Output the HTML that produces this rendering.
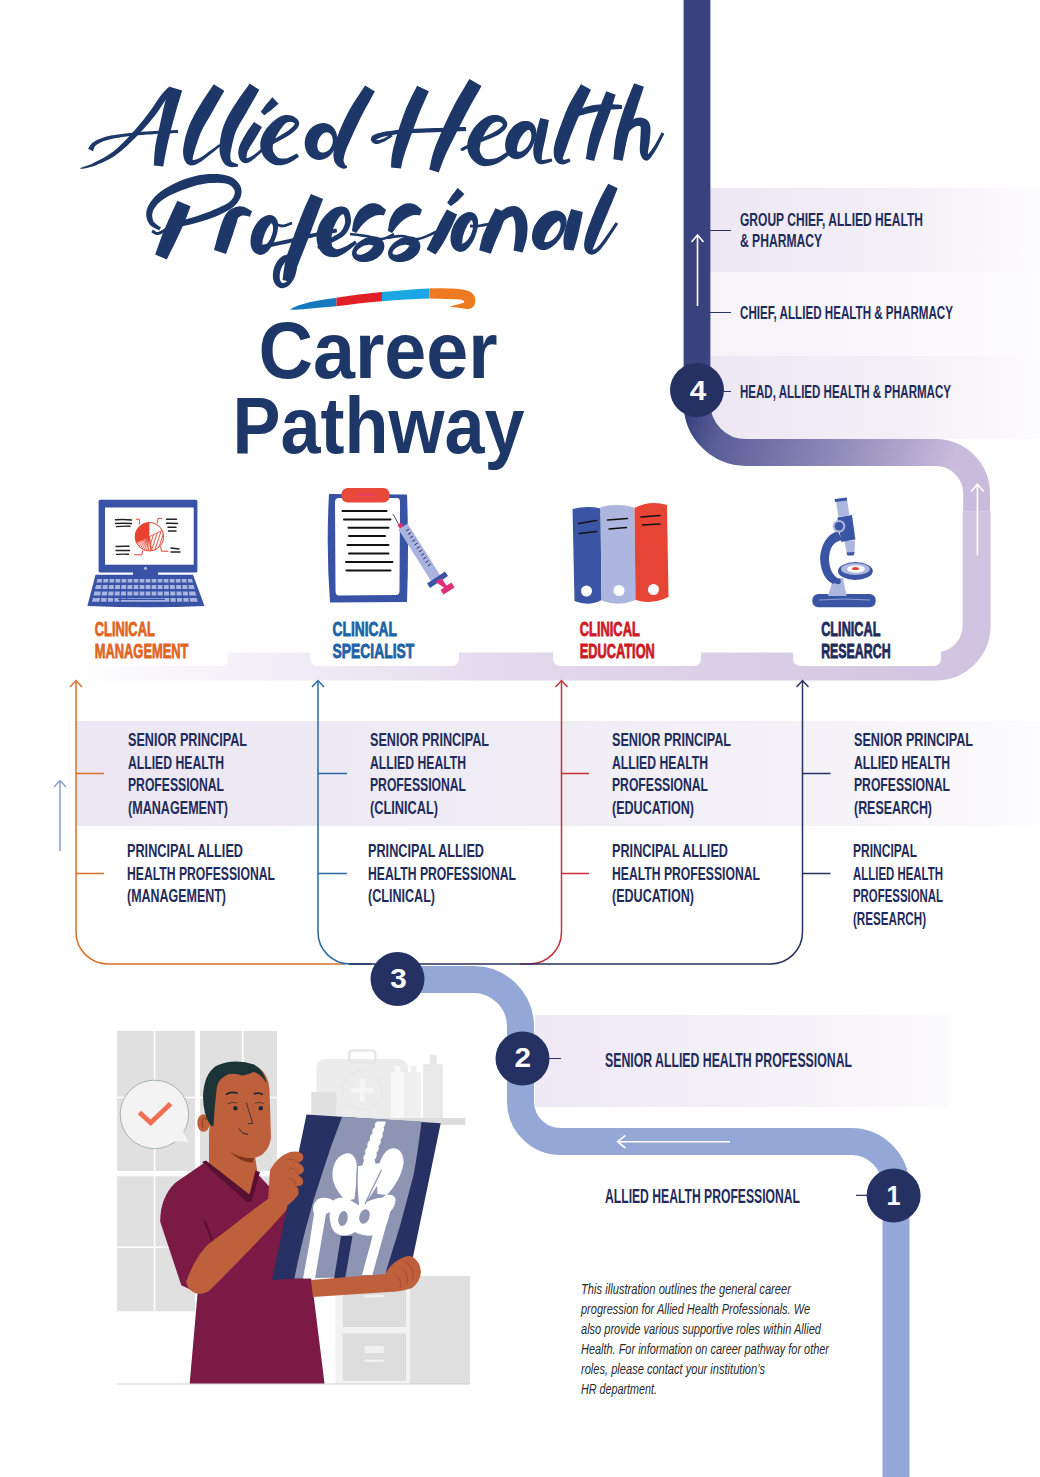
<!DOCTYPE html>
<html><head><meta charset="utf-8">
<style>
html,body{margin:0;padding:0;background:#fff;}
body{width:1040px;height:1477px;overflow:hidden;position:relative;}
svg{position:absolute;left:0;top:0;}
.t{font-family:"Liberation Sans",sans-serif;font-weight:bold;fill:#1f2b5b;font-size:19px;}
.big{font-family:"Liberation Sans",sans-serif;font-weight:bold;fill:#1d3768;}
.note{font-family:"Liberation Sans",sans-serif;font-style:italic;fill:#2a2a2a;font-size:15px;}
</style></head>
<body>
<svg width="1040" height="1477" viewBox="0 0 1040 1477">
<defs>
  <linearGradient id="bandTop" x1="710" y1="0" x2="1040" y2="0" gradientUnits="userSpaceOnUse">
    <stop offset="0" stop-color="#ede7f3"/><stop offset="0.6" stop-color="#f4f0f7"/><stop offset="1" stop-color="#fdfcfe"/>
  </linearGradient>
  <linearGradient id="bandTop2" x1="710" y1="0" x2="1040" y2="0" gradientUnits="userSpaceOnUse">
    <stop offset="0" stop-color="#f6f3f9"/><stop offset="1" stop-color="#fdfcfe"/>
  </linearGradient>
  <linearGradient id="pathA" x1="697" y1="385" x2="955" y2="455" gradientUnits="userSpaceOnUse">
    <stop offset="0" stop-color="#3a427e"/><stop offset="0.12" stop-color="#5a5e97"/><stop offset="0.55" stop-color="#8e88b8"/><stop offset="1" stop-color="#c8bbdb"/>
  </linearGradient>
  <linearGradient id="pathB" x1="975" y1="0" x2="70" y2="0" gradientUnits="userSpaceOnUse">
    <stop offset="0" stop-color="#d0c3e0"/><stop offset="0.5" stop-color="#e2d9ec"/><stop offset="1" stop-color="#ffffff"/>
  </linearGradient>
  <linearGradient id="band3" x1="76" y1="0" x2="1040" y2="0" gradientUnits="userSpaceOnUse">
    <stop offset="0" stop-color="#ece7f3"/><stop offset="0.5" stop-color="#f0edf5"/><stop offset="0.8" stop-color="#f5f3f8"/><stop offset="1" stop-color="#fdfcfe"/>
  </linearGradient>
  <linearGradient id="band2" x1="535" y1="0" x2="951" y2="0" gradientUnits="userSpaceOnUse">
    <stop offset="0" stop-color="#eee9f4"/><stop offset="0.7" stop-color="#f6f3f9"/><stop offset="1" stop-color="#fcfbfd"/>
  </linearGradient>
</defs>

<!-- top-right bands -->
<rect x="710" y="188" width="330" height="84" fill="url(#bandTop)"/>
<rect x="710" y="272" width="330" height="84" fill="url(#bandTop2)"/>
<rect x="710" y="356" width="330" height="83" fill="url(#bandTop)"/>

<!-- upper path -->
<path d="M697,0 V403.5 A49,49 0 0 0 746,452.5 H935.5 A41,41 0 0 1 976.6,493.5 V511.5" fill="none" stroke="url(#pathA)" stroke-width="26.8"/>
<path d="M976.6,511.3 V625.5 A41,41 0 0 1 935.6,666.5 H60" fill="none" stroke="url(#pathB)" stroke-width="28"/>
<!-- right up arrow -->
<path d="M977.4,555.5 V485 M971,491.5 L977.4,484.2 L983.8,491.5" fill="none" stroke="#fff" stroke-width="1.6"/>
<!-- bar up arrow -->
<path d="M697.5,306 V236 M691.5,242 L697.5,235 L703.5,242" fill="none" stroke="#fff" stroke-width="1.6"/>

<!-- ticks top right -->
<path d="M710,230.5 H731 M710,312.5 H731 M723,391.5 H731" stroke="#2a3466" stroke-width="1.2"/>
<circle cx="697" cy="390" r="27" fill="#253063"/>
<text x="698" y="399.6" text-anchor="middle" style="font-family:'Liberation Sans',sans-serif;font-weight:bold;font-size:28.5px;fill:#fff" textLength="16.5" lengthAdjust="spacingAndGlyphs">4</text>

<text class="t" x="740" y="225.8" textLength="183" lengthAdjust="spacingAndGlyphs">GROUP CHIEF, ALLIED HEALTH</text>
<text class="t" x="740" y="246.8" textLength="82" lengthAdjust="spacingAndGlyphs">&amp; PHARMACY</text>
<text class="t" x="740" y="318.8" textLength="213" lengthAdjust="spacingAndGlyphs">CHIEF, ALLIED HEALTH &amp; PHARMACY</text>
<text class="t" x="740" y="398" textLength="211" lengthAdjust="spacingAndGlyphs">HEAD, ALLIED HEALTH &amp; PHARMACY</text>

<!-- label white boxes -->
<rect x="60" y="600" width="168" height="66" rx="7" fill="#fff"/>
<rect x="310" y="600" width="149" height="66" rx="7" fill="#fff"/>
<rect x="553" y="600" width="148" height="66" rx="7" fill="#fff"/>
<rect x="793" y="600" width="148" height="66" rx="7" fill="#fff"/>

<g class="lab" style="font-family:'Liberation Sans',sans-serif;font-weight:bold;font-size:19.5px;stroke-width:0.8">
<text x="94.8" y="636" textLength="60" lengthAdjust="spacingAndGlyphs" style="fill:#e0661f;stroke:#e0661f">CLINICAL</text>
<text x="94.8" y="658" textLength="93.6" lengthAdjust="spacingAndGlyphs" style="fill:#e0661f;stroke:#e0661f">MANAGEMENT</text>
<text x="332.6" y="636" textLength="64.2" lengthAdjust="spacingAndGlyphs" style="fill:#1d63a8;stroke:#1d63a8">CLINICAL</text>
<text x="332.6" y="658" textLength="81.6" lengthAdjust="spacingAndGlyphs" style="fill:#1d63a8;stroke:#1d63a8">SPECIALIST</text>
<text x="579.8" y="636" textLength="60" lengthAdjust="spacingAndGlyphs" style="fill:#cc1a24;stroke:#cc1a24">CLINICAL</text>
<text x="579.8" y="658" textLength="75" lengthAdjust="spacingAndGlyphs" style="fill:#cc1a24;stroke:#cc1a24">EDUCATION</text>
<text x="821.2" y="636" textLength="59.2" lengthAdjust="spacingAndGlyphs" style="fill:#1f2b5b;stroke:#1f2b5b">CLINICAL</text>
<text x="821.2" y="658" textLength="69.4" lengthAdjust="spacingAndGlyphs" style="fill:#1f2b5b;stroke:#1f2b5b">RESEARCH</text>
</g>


<!-- ICONS -->
<g id="laptop">
  <rect x="98.6" y="499.7" width="98.8" height="72.7" rx="1.5" fill="#3852a6"/>
  <rect x="105" y="507.5" width="88.7" height="57.2" fill="#fff"/>
  <circle cx="145.5" cy="568.3" r="1.6" fill="#a9b3df"/>
  <rect x="133" y="571" width="25" height="5" fill="#3852a6"/>
  <path d="M95.5,574.8 L193,574.8 L204.5,606 Q150,608.5 87.4,606 Z" fill="#3852a6"/>
  <g fill="#a9b3df">
    <path d="M97.5,579 H192 L193,582.5 H96.5 Z"/>
    <path d="M96,585 H193.5 L194.6,589 H95 Z"/>
    <path d="M94.5,591.5 H195 L196.3,595.5 H93.5 Z"/>
    <path d="M93,598 H196.7 L197.8,601.8 H92 Z"/>
  </g>
  <g stroke="#3852a6" stroke-width="1.3">
    <path d="M103,578 L100,603 M109,578 L107,603 M115,578 L113.5,603 M121,578 L120,603 M127,578 L126.5,600 M133,578 L133,598 M139,578 L139,598 M145,578 L145,598 M151,578 L151,598 M157,578 L157,598 M163,578 L163.5,598 M169,578 L170,603 M175,578 L176.5,603 M181,578 L183,603 M187,578 L189.5,603"/>
  </g>
  <path d="M118,599.3 H165" stroke="#3852a6" stroke-width="1.2"/>
  <clipPath id="pieRad"><path d="M149.40,536.70 L136.47,542.81 A14.3,14.3 0 0 0 151.88,550.78 Z"/></clipPath>
  <clipPath id="pieDiag"><path d="M149.40,536.70 L151.88,550.78 A14.3,14.3 0 0 0 162.25,530.43 Z"/></clipPath>
  <circle cx="149.4" cy="536.7" r="14.3" fill="#fff"/>
  <path d="M149.40,536.70 L149.40,522.40 A14.3,14.3 0 0 0 136.47,542.81 Z" fill="#e8412f"/>
  <g clip-path="url(#pieRad)" stroke="#e8412f" stroke-width="0.9"><path d="M149.40,536.70 L150.89,550.92 M149.40,536.70 L148.65,550.98 M149.40,536.70 L146.43,550.69 M149.40,536.70 L144.28,550.05 M149.40,536.70 L142.25,549.08 M149.40,536.70 L140.40,547.81 M149.40,536.70 L138.77,546.27 M149.40,536.70 L137.41,544.49"/></g>
  <g clip-path="url(#pieDiag)" stroke="#e8412f" stroke-width="0.9"><path d="M120.8,556.0 L132.8,520.0 M124.0,556.0 L136.0,520.0 M127.2,556.0 L139.2,520.0 M130.4,556.0 L142.4,520.0 M133.6,556.0 L145.6,520.0 M136.8,556.0 L148.8,520.0 M140.0,556.0 L152.0,520.0 M143.2,556.0 L155.2,520.0 M146.4,556.0 L158.4,520.0 M149.6,556.0 L161.6,520.0 M152.8,556.0 L164.8,520.0 M156.0,556.0 L168.0,520.0 M159.2,556.0 L171.2,520.0 M162.4,556.0 L174.4,520.0 M165.6,556.0 L177.6,520.0 M168.8,556.0 L180.8,520.0"/></g>
  <path d="M149.4,536.7 L151.88,550.78 M149.4,536.7 L162.25,530.43 M149.4,536.7 L136.47,542.81" stroke="#e8412f" stroke-width="0.8"/>
  <circle cx="149.4" cy="536.7" r="14.3" fill="none" stroke="#e8412f" stroke-width="1"/>
  <path d="M139.4,524.5 V519.2 H136 M157.2,523.5 L158.2,518.3 H162 M142.8,550.5 L141.8,554.8 H134 M160.6,546.6 L161.5,551.2 H168.3" fill="none" stroke="#e8412f" stroke-width="1"/>
  <g stroke="#222" stroke-width="1.4" stroke-linecap="round">
    <path d="M115.5,519.8 Q124,519 131.5,520 M115.5,523.5 Q124,523 131.5,523.5 M116.5,526.6 Q124,526 130,526.2 M166.5,519.3 H176.5 M166.5,523.3 Q172,523 177.5,523.5 M168,527.3 H176 M168.5,531 H176 M116,546.5 Q123,546 129,546.3 M116,550.5 H129.5 M116.5,554.4 Q122,554 128.5,554.2 M171,548 L179,549 M171,552 H180"/>
  </g>
</g>
<g id="clipboard">
  <path d="M329,494 L407,494.5 Q409,548 407,602 L330,602.5 Q326,548 329,494 Z" fill="#3852a6"/>
  <path d="M339,498 L397,498 Q400,498 400,502 L399.5,591 Q399.5,595 396,595 L339,595.5 Q335.5,595.5 335.5,591 L335,502 Q335,498 339,498 Z" fill="#fff"/>
  <rect x="341.5" y="488" width="48" height="14.5" rx="6" fill="#e8493a"/>
  <path d="M357,494.8 H374" stroke="#e8397a" stroke-width="1.5"/>
  <g stroke="#111" stroke-width="2" stroke-linecap="round">
    <path d="M342.5,511 H386.5 M344,519.5 H390.5 M348.5,527.8 H388.5 M349,536 H385 M347.5,545 H388.5 M349,553.5 H388.5 M346,562 H392.5 M346.5,570.6 H390.5"/>
  </g>
  <path d="M393,514 L398.5,524" stroke="#222" stroke-width="0.8"/>
  <path d="M397.5,525 L401,522.5 L404,527 L400.5,529.5 Z" fill="#e0307a"/>
  <path d="M398.5,529.5 L407.5,523.5 L440,575 L431,581 Z" fill="#a9b3df"/>
  <g stroke="#2a2f55" stroke-width="1">
    <path d="M406,531 L409,529 M408,534.5 L411,532.5 M410,538 L413,536 M412.3,541.5 L415.3,539.5 M414.5,545 L417.5,543 M416.7,548.5 L419.7,546.5 M419,552 L422,550 M421.2,555.5 L424.2,553.5 M423.4,559 L426.4,557 M425.6,562.5 L428.6,560.5 M427.8,566 L430.8,564"/>
  </g>
  <path d="M427,583.5 L445,571.5 L448,576 L430,588 Z" fill="#3852a6"/>
  <path d="M435.5,582 L441.5,578 L446.5,585.5 L451.5,582.5 L454.5,587.5 L443.5,594.5 L440.5,590 L444,587.5 Z" fill="#e0307a"/>
</g>
<g id="binders">
  <path d="M572.5,509 Q587,505.5 600.5,508.5 L601.5,600 Q589,607 574.5,601 Z" fill="#3a55a4"/>
  <path d="M600.5,507 Q617,503 634.5,507.5 L635.5,600 Q618,607 601.5,600.5 Z" fill="#adb6de"/>
  <path d="M634.5,508 Q650,500 667,505 L668.5,597 Q652,605 635.5,600 Z" fill="#e64535"/>
  <circle cx="586.5" cy="591" r="5.5" fill="#fff"/>
  <circle cx="619" cy="590.5" r="5.5" fill="#fff"/>
  <circle cx="653.5" cy="589.5" r="5.5" fill="#fff"/>
  <g stroke="#111" stroke-width="1.5" stroke-linecap="round">
    <path d="M578.5,523.5 L596.5,520.5 M579.5,533.5 L596.5,531.5 M607.5,520 L627.5,518.5 M609,529 L626.5,527.5 M641,517 L660,515.5 M642.5,525 L660,524"/>
  </g>
</g>
<g id="microscope">
  <rect x="812.3" y="594" width="63.4" height="13.3" rx="6" fill="#3a55a4"/>
  <path d="M819,600 Q845,598 870,600" stroke="#a9b3df" stroke-width="0.8" fill="none"/>
  <path d="M828,596 L833.5,578 L843,578 L846.6,596 Z" fill="#adb6de"/>
  <path d="M838,531 Q822,536 820,558 Q821,578 833,584 L840,580 Q829,574 829,558 Q830,542 842,540 Z" fill="#3a55a4"/>
  <circle cx="837.8" cy="581.3" r="3" fill="#3a55a4"/>
  <ellipse cx="855.4" cy="571" rx="17.4" ry="9" fill="#3a55a4"/>
  <ellipse cx="855.4" cy="569" rx="14.5" ry="6" fill="#adb6de"/>
  <ellipse cx="856" cy="569" rx="9" ry="3.8" fill="#fff"/>
  <ellipse cx="855.5" cy="568.5" rx="3.5" ry="1.6" fill="#e64535"/>
  <path d="M844.5,541 L855,540.5 L854.5,553 L851,555 L847,554.5 Z" fill="#adb6de"/>
  <path d="M846.5,552.5 L854.5,552 L853.5,555.5 L847.5,555.5 Z" fill="#3a55a4"/>
  <path d="M837.4,517.5 L852,515 L855.4,539.5 L841.3,542 Z" fill="#3a55a4"/>
  <circle cx="839" cy="526.3" r="6.3" fill="#adb6de"/>
  <circle cx="839" cy="526.3" r="4.3" fill="#3a55a4"/>
  <path d="M836,501 L847,499.5 L849.5,515.5 L838.5,517 Z" fill="#adb6de"/>
  <path d="M834.7,499 L846.8,497.5 L847.2,500.5 L835,502 Z" fill="#3a55a4"/>
</g>

<!-- lower band -->
<rect x="76" y="721" width="964" height="105" fill="url(#band3)"/>

<!-- bracket lines -->
<g fill="none" stroke-width="1.5">
  <path d="M76,681 V932 A32,32 0 0 0 108,964 H345" stroke="#d9712a"/>
  <path d="M70,687 L76,680.5 L82,687 M76,773.5 H104 M76,873.5 H104" stroke="#d9712a"/>
  <path d="M318,681 V932 A32,32 0 0 0 350,964 H372" stroke="#2a6aa3"/>
  <path d="M312,687 L318,680.5 L324,687 M318,773.5 H347 M318,873.5 H347" stroke="#2a6aa3"/>
  <path d="M561.5,681 V932 A32,32 0 0 1 529.5,964 H520" stroke="#c8303a"/>
  <path d="M555.5,687 L561.5,680.5 L567.5,687 M561.5,773.5 H589 M561.5,873.5 H589" stroke="#c8303a"/>
  <path d="M802.5,681 V932 A32,32 0 0 1 770.5,964 H349" stroke="#27325f"/>
  <path d="M796.5,687 L802.5,680.5 L808.5,687 M802.5,773.5 H830.5 M802.5,873.5 H830.5" stroke="#27325f"/>
  <path d="M60,851 V781 M54,787 L60,780.5 L66,787" stroke="#8f9cc9"/>
</g>

<!-- bracket texts -->
<g class="t">
<text x="128" y="746" textLength="119" lengthAdjust="spacingAndGlyphs">SENIOR PRINCIPAL</text>
<text x="128" y="768.5" textLength="96" lengthAdjust="spacingAndGlyphs">ALLIED HEALTH</text>
<text x="128" y="791" textLength="96" lengthAdjust="spacingAndGlyphs">PROFESSIONAL</text>
<text x="128" y="813.5" textLength="100" lengthAdjust="spacingAndGlyphs">(MANAGEMENT)</text>
<text x="127" y="857" textLength="116" lengthAdjust="spacingAndGlyphs">PRINCIPAL ALLIED</text>
<text x="127" y="879.5" textLength="148" lengthAdjust="spacingAndGlyphs">HEALTH PROFESSIONAL</text>
<text x="127" y="902" textLength="99" lengthAdjust="spacingAndGlyphs">(MANAGEMENT)</text>

<text x="370" y="746" textLength="119" lengthAdjust="spacingAndGlyphs">SENIOR PRINCIPAL</text>
<text x="370" y="768.5" textLength="96" lengthAdjust="spacingAndGlyphs">ALLIED HEALTH</text>
<text x="370" y="791" textLength="96" lengthAdjust="spacingAndGlyphs">PROFESSIONAL</text>
<text x="370" y="813.5" textLength="68" lengthAdjust="spacingAndGlyphs">(CLINICAL)</text>
<text x="368" y="857" textLength="116" lengthAdjust="spacingAndGlyphs">PRINCIPAL ALLIED</text>
<text x="368" y="879.5" textLength="148" lengthAdjust="spacingAndGlyphs">HEALTH PROFESSIONAL</text>
<text x="368" y="902" textLength="67" lengthAdjust="spacingAndGlyphs">(CLINICAL)</text>

<text x="612" y="746" textLength="119" lengthAdjust="spacingAndGlyphs">SENIOR PRINCIPAL</text>
<text x="612" y="768.5" textLength="96" lengthAdjust="spacingAndGlyphs">ALLIED HEALTH</text>
<text x="612" y="791" textLength="96" lengthAdjust="spacingAndGlyphs">PROFESSIONAL</text>
<text x="612" y="813.5" textLength="82" lengthAdjust="spacingAndGlyphs">(EDUCATION)</text>
<text x="612" y="857" textLength="116" lengthAdjust="spacingAndGlyphs">PRINCIPAL ALLIED</text>
<text x="612" y="879.5" textLength="148" lengthAdjust="spacingAndGlyphs">HEALTH PROFESSIONAL</text>
<text x="612" y="902" textLength="82" lengthAdjust="spacingAndGlyphs">(EDUCATION)</text>

<text x="854" y="746" textLength="119" lengthAdjust="spacingAndGlyphs">SENIOR PRINCIPAL</text>
<text x="854" y="768.5" textLength="96" lengthAdjust="spacingAndGlyphs">ALLIED HEALTH</text>
<text x="854" y="791" textLength="96" lengthAdjust="spacingAndGlyphs">PROFESSIONAL</text>
<text x="854" y="813.5" textLength="78" lengthAdjust="spacingAndGlyphs">(RESEARCH)</text>
<text x="853" y="857" textLength="64" lengthAdjust="spacingAndGlyphs">PRINCIPAL</text>
<text x="853" y="879.5" textLength="90" lengthAdjust="spacingAndGlyphs">ALLIED HEALTH</text>
<text x="853" y="902" textLength="90" lengthAdjust="spacingAndGlyphs">PROFESSIONAL</text>
<text x="853" y="924.5" textLength="73" lengthAdjust="spacingAndGlyphs">(RESEARCH)</text>
</g>

<!-- lower path -->
<rect x="535" y="1015" width="416" height="92" fill="url(#band2)"/>
<path d="M398,979.5 H473 A47,47 0 0 1 520.5,1026.5 V1101.5 A40,40 0 0 0 560.5,1141.5 H851 A45,45 0 0 1 896,1186.5 V1477" fill="none" stroke="#94a7d7" stroke-width="27"/>
<path d="M730,1141.7 H618 M625.4,1135.3 L617.5,1141.7 L625.4,1148" fill="none" stroke="#fff" stroke-width="1.6"/>
<path d="M549,1058.5 H561 M856,1195.4 H867" stroke="#2a3466" stroke-width="1.2"/>
<circle cx="397.5" cy="979" r="27" fill="#253063"/>
<circle cx="522.5" cy="1058.5" r="27" fill="#253063"/>
<circle cx="893.6" cy="1195.5" r="27" fill="#253063"/>
<text x="398.5" y="988.3" text-anchor="middle" style="font-family:'Liberation Sans',sans-serif;font-weight:bold;font-size:28.5px;fill:#fff" textLength="16.5" lengthAdjust="spacingAndGlyphs">3</text>
<text x="522.7" y="1066.6" text-anchor="middle" style="font-family:'Liberation Sans',sans-serif;font-weight:bold;font-size:28.5px;fill:#fff" textLength="16.5" lengthAdjust="spacingAndGlyphs">2</text>
<text x="893.6" y="1205" text-anchor="middle" style="font-family:'Liberation Sans',sans-serif;font-weight:bold;font-size:28px;fill:#fff" textLength="14" lengthAdjust="spacingAndGlyphs">1</text>
<text class="t" x="605" y="1067" style="font-size:20.5px" textLength="247" lengthAdjust="spacingAndGlyphs">SENIOR ALLIED HEALTH PROFESSIONAL</text>
<text class="t" x="605" y="1202.8" style="font-size:20.5px" textLength="195" lengthAdjust="spacingAndGlyphs">ALLIED HEALTH PROFESSIONAL</text>


<!-- ILLUSTRATION -->
<g id="illus">
  <!-- window grid -->
  <g fill="#e0e0e0">
    <rect x="117" y="1031" width="78" height="140"/>
    <rect x="200" y="1031" width="77" height="140"/>
    <rect x="117" y="1176.3" width="78" height="135"/>
    <rect x="200" y="1176.3" width="77" height="135"/>
  </g>
  <g stroke="#fff" stroke-width="1.6">
    <path d="M154.6,1031 V1311 M242.7,1031 V1311 M117,1097.5 H277 M117,1247.3 H277"/>
  </g>
  <!-- shelf & kit -->
  <rect x="316.4" y="1059" width="91.6" height="62" rx="9" fill="#ececec"/>
  <rect x="349.3" y="1050.5" width="26" height="12" rx="3" fill="none" stroke="#e6e6e6" stroke-width="2.4"/>
  <circle cx="362.3" cy="1090.2" r="19.5" fill="none" stroke="#e4e4e4" stroke-width="0.8"/>
  <path d="M362.3,1079 V1101.5 M351,1090.2 H373.5" stroke="#f5f5f5" stroke-width="5"/>
  <rect x="311.2" y="1092" width="25" height="26" fill="#e0e0e0"/>
  <rect x="390.9" y="1072" width="13.8" height="46" rx="1" fill="#f7f7f7"/>
  <rect x="394.5" y="1066" width="6" height="8" fill="#f7f7f7"/>
  <rect x="406.4" y="1072" width="14.6" height="46" rx="1" fill="#f0f0f0"/>
  <rect x="410.5" y="1066" width="6" height="8" fill="#f0f0f0"/>
  <rect x="423.2" y="1064.2" width="19.6" height="54" fill="#e8e8e8"/>
  <rect x="429.8" y="1054.7" width="6.9" height="10" fill="#e8e8e8"/>
  <rect x="311" y="1118" width="154.3" height="7" fill="#dcdcdc"/>
  <!-- cabinet -->
  <rect x="410" y="1276" width="60" height="108" fill="#e0e0e0"/>
  <rect x="335.4" y="1276" width="74.6" height="108" fill="#f2f2f2"/>
  <rect x="342.8" y="1276" width="63.2" height="51" fill="#dddddd"/>
  <rect x="342.8" y="1333.5" width="63.2" height="47.3" fill="#dddddd"/>
  <rect x="364.6" y="1346" width="19.2" height="7" fill="#f0f0f0"/>
  <rect x="364.6" y="1359.7" width="19.2" height="2.4" fill="#f0f0f0"/>
  <rect x="364.6" y="1295" width="19.2" height="2.4" fill="#f0f0f0"/>
  <!-- floor -->
  <path d="M117,1384 H470" stroke="#cfcfcf" stroke-width="1.2"/>
  <!-- speech bubble -->
  <circle cx="154.4" cy="1114.4" r="34.2" fill="#f3f3f3" stroke="#8d9a9a" stroke-width="0.7"/>
  <path d="M182.5,1130 L189.2,1143.6 Q182,1139.5 174,1141.8 L176,1136 Z" fill="#f3f3f3"/>
  <path d="M183.6,1131.4 L189.2,1143.6" stroke="#dcdcdc" stroke-width="0.5"/>
  <path d="M139.4,1112.5 L150.7,1122.8 L170.6,1103.8" fill="none" stroke="#f26d52" stroke-width="4.8"/>
  <!-- man: body -->
  <path d="M204,1163 L254.7,1171 L286.4,1204.7 L311.8,1281 L324.5,1383.5 L189.7,1383.5 L197.6,1293 L181.3,1285.2 L160.2,1221.8 Q160,1198 175,1183 Z" fill="#7b1a45"/>
  <!-- neck -->
  <path d="M209,1130 L254,1150 L257.3,1171.2 L249.2,1198.8 L204.2,1164.2 L209,1164 Z" fill="#bf603c"/>
  <path d="M202,1162 L206,1160.5 L249.5,1194.5 L255.5,1170.5 L260,1172 L251.5,1201.5 L247,1202 Z" fill="#571031"/>
  <!-- head -->
  <path d="M209,1092 Q207,1064 236,1062 Q268,1062 269.5,1090 L271,1138 Q268,1156 252,1158.5 L231,1152 Q215,1150 209.5,1140 Z" fill="#bf603c"/>
  <path d="M229.6,1151.5 Q241,1159 253.8,1158 L252.7,1162.7 Q240,1162 229.6,1151.5 Z" fill="#7e3418"/>
  <ellipse cx="203.5" cy="1123" rx="6.2" ry="8.8" fill="#bf603c"/>
  <path d="M203.5,1118 Q200.5,1122 203,1128 M203.5,1118 Q206,1117.5 207,1120" fill="none" stroke="#7e3418" stroke-width="0.8"/>
  <path d="M211,1126 Q203,1115 203,1096 Q204,1074 216,1066 Q234,1058 254,1064.5 Q264,1070 266.8,1083.5 Q261,1074 253.8,1072 Q248,1075 242.3,1075.4 Q235,1073 228.5,1074.2 Q219,1078 217,1086 Q214.5,1105 213.5,1126 Z" fill="#1c3437"/>
  <!-- face details -->
  <circle cx="235.4" cy="1108.3" r="2.2" fill="#1b2a2a"/>
  <circle cx="260.8" cy="1108.3" r="2.2" fill="#1b2a2a"/>
  <path d="M226,1094.5 Q231.5,1091 237.7,1093.5 M253.8,1094 Q258.5,1092 263,1094.5" fill="none" stroke="#1b2a2a" stroke-width="1.8"/>
  <path d="M227.5,1104 Q232,1101 236.5,1103 M255,1103.5 Q259,1101 263.5,1103.5" fill="none" stroke="#1b2a2a" stroke-width="0.7"/>
  <path d="M246.3,1102.5 L252.7,1123.5 L248,1123.8" fill="none" stroke="#1b2a2a" stroke-width="0.8"/>
  <path d="M239,1128.5 Q242,1134.5 248,1134.2" fill="none" stroke="#1b2a2a" stroke-width="1"/>
  <!-- upper arm (skin) from elbow to raised hand -->
  <path d="M186,1282 C193,1263 202,1249 210.8,1242.3 C230,1228 252,1210 272,1196 L290,1206 C265,1235 235,1265 210,1290 C203,1296 190,1296 186,1282 Z" fill="#bf603c"/>
  <path d="M204.6,1220.8 L212.3,1240.8" stroke="#5a0f30" stroke-width="2"/>
  <!-- x-ray film -->
  <path d="M306.5,1114.5 L440.7,1123.2 L410,1271.5 L272,1280 Z" fill="#283163"/>
  <path d="M342,1117 L421.6,1121.4 Q418,1150 413.8,1174 Q407,1200 400,1226 Q392,1252 384.4,1276.5 L294.4,1278.5 Q300,1250 306.5,1226 Q313,1200 322,1174 Q331,1145 342,1117 Z" fill="#8e95b3"/>
  <path d="M341,1236 L352.5,1236 L345,1279 L334,1279 Z" fill="#283163"/>
  <!-- bones -->
  <g fill="#ffffff">
    <path d="M377,1121.5 L385.5,1121.5 Q386,1125 383.5,1127 Q385,1130 382.5,1133 Q383.5,1137 380.5,1139.5 Q381.5,1143 378.5,1146 Q379.5,1150 376.5,1152.5 Q377.5,1157 374.5,1159.5 L376,1166 L362,1167 L364,1160 Q362,1157 365.5,1154 Q364,1150 367.5,1147 Q366.5,1143 370,1140 Q369,1136 372.5,1133.5 Q371.5,1129 375,1127 Q374,1123 377,1121.5 Z"/>
    <path d="M346,1153.5 C352,1152 357,1158 357,1168 C357,1178 355.5,1190 354.5,1199 L346,1201 C340,1195 333,1186 332.5,1176 C332,1164 338,1155 346,1153.5 Z"/>
    <path d="M393,1148.3 C400,1148 404,1155 403.5,1163 C402,1175 395,1186 387,1195 L377.5,1194 C376.5,1185 377,1172 380,1162 C383,1154 387,1149 393,1148.3 Z"/>
    <path d="M358,1166 L381.5,1163 L382.5,1175 C378,1186 368,1200 359.5,1210 C357,1199 356.5,1184 358,1166 Z"/>
    <path d="M331,1205 C333,1197 342,1196 350,1200 L360,1206 C368,1200 380,1196 388,1198 C392,1205 390,1222 382,1231 C372,1238 362,1236 355,1232 C348,1237 338,1237 333,1230 C329,1222 329,1213 331,1205 Z"/>
    <path d="M318,1199 Q327,1195.5 334,1201 Q336,1207 330,1212 L326,1214 L320.5,1246 L315,1278.5 L303,1278.5 L309,1246 L314,1214 Q311,1205 318,1199 Z"/>
    <path d="M386,1195 Q394,1193.5 395.5,1199 Q396,1206 390,1212 L381,1244 L372.4,1275 L362,1275 L370.5,1244 L378,1212 Q379,1198 386,1195 Z"/>
  </g>
  <g fill="#8e95b3">
    <ellipse cx="343" cy="1218.5" rx="4.6" ry="7.6" transform="rotate(10 343 1218.5)"/>
    <ellipse cx="364.5" cy="1216.5" rx="5" ry="7.4" transform="rotate(20 364.5 1216.5)"/>
  </g>
  <path d="M357.5,1166 Q356,1185 358.5,1205 M381.5,1170 Q374,1185 365,1204" fill="none" stroke="#8e95b3" stroke-width="1.3"/>
  <!-- raised hand -->
  <path d="M270,1170 Q278,1156 290,1152 Q300,1150 303,1155 Q305,1160 298,1163 Q304,1165 304,1170 Q303,1174 298,1175 Q304,1178 303,1183 Q301,1187 296,1186 Q300,1190 298,1195 Q290,1206 280,1209 L268,1200 Z" fill="#bf603c"/>
  <path d="M287,1159 Q294,1158 299,1163 M289,1168 Q296,1168 299,1175 M289,1178 Q295,1179 296,1186" fill="none" stroke="#9e4a2a" stroke-width="0.8"/>
  <!-- lower arm and hand -->
  <path d="M311,1280 L385,1274 Q392,1262 402,1258 Q410,1254 414,1258 Q420,1262 421,1272 Q420,1282 412,1288 Q400,1292 388,1292 L313,1297 Z" fill="#bf603c"/>
  <path d="M405,1262 Q414,1266 413,1279 M401,1268 Q409,1272 407,1285 M396,1275 Q402,1279 400,1288" fill="none" stroke="#9e4a2a" stroke-width="0.8"/>
</g>

<!-- footnote -->
<g class="note">
<text x="581" y="1294" textLength="210" lengthAdjust="spacingAndGlyphs">This illustration outlines the general career</text>
<text x="581" y="1314" textLength="229" lengthAdjust="spacingAndGlyphs">progression for Allied Health Professionals. We</text>
<text x="581" y="1334" textLength="240" lengthAdjust="spacingAndGlyphs">also provide various supportive roles within Allied</text>
<text x="581" y="1354" textLength="248" lengthAdjust="spacingAndGlyphs">Health. For information on career pathway for other</text>
<text x="581" y="1374" textLength="184" lengthAdjust="spacingAndGlyphs">roles, please contact your institution’s</text>
<text x="581" y="1394" textLength="76" lengthAdjust="spacingAndGlyphs">HR department.</text>
</g>

<!-- title -->
<g id="script" fill="#1d3768">
<path d="M80.7,169.1 L82.2,168.8 L84.3,168.4 L86.8,167.9 L89.6,167.3 L92.6,166.4 L95.6,165.4 L98.7,164.1 L102.0,162.7 L105.5,161.1 L109.1,159.3 L112.8,157.2 L116.3,154.8 L119.9,152.1 L123.4,149.1 L126.9,145.9 L130.4,142.5 L133.8,139.2 L137.0,135.9 L140.2,132.6 L143.3,129.2 L146.4,125.8 L149.3,122.4 L152.0,119.1 L154.6,116.0 L156.9,112.9 L159.0,110.0 L160.9,107.1 L162.6,104.5 L164.2,102.1 L165.6,99.9 L167.0,97.9 L168.3,96.0 L169.4,94.3 L170.5,92.8 L171.3,91.5 L172.0,90.6 L168.0,87.4 L167.3,88.3 L166.2,89.4 L164.9,90.7 L163.5,92.3 L162.0,94.1 L160.4,96.1 L158.7,98.4 L157.1,100.8 L155.3,103.5 L153.5,106.2 L151.6,109.1 L149.4,112.0 L147.1,115.1 L144.5,118.4 L141.7,121.9 L138.9,125.3 L136.0,128.8 L133.0,132.1 L129.9,135.5 L126.7,138.9 L123.4,142.3 L120.1,145.5 L116.9,148.5 L113.7,151.2 L110.4,153.6 L107.1,155.7 L103.8,157.7 L100.5,159.5 L97.3,161.1 L94.4,162.6 L91.6,163.9 L88.9,165.0 L86.2,166.0 L83.8,166.8 L81.8,167.4 L80.3,167.9 Z"/>
<path d="M168.8,86.6 L168.3,88.4 L167.7,90.8 L167.0,93.7 L166.3,96.9 L165.5,100.2 L164.7,103.4 L164.0,106.5 L163.2,109.8 L162.5,113.1 L161.7,116.6 L160.9,120.1 L160.2,123.6 L159.4,127.2 L158.5,130.9 L157.6,134.7 L156.7,138.5 L156.0,142.3 L155.3,146.0 L154.9,149.7 L154.5,153.5 L154.2,157.2 L154.1,160.6 L153.9,163.4 L153.8,165.4 L163.2,166.6 L163.6,164.5 L164.1,161.8 L164.6,158.5 L165.3,155.0 L166.0,151.4 L166.7,148.0 L167.4,144.7 L168.2,141.1 L169.1,137.4 L170.0,133.7 L170.9,130.0 L171.8,126.4 L172.7,122.9 L173.7,119.5 L174.6,116.2 L175.5,112.9 L176.4,109.7 L177.3,106.6 L178.2,103.6 L179.2,100.4 L180.1,97.3 L181.0,94.5 L181.7,92.1 L182.2,90.4 Z"/>
<path d="M92.9,151.3 L93.3,150.5 L93.6,149.4 L94.0,148.3 L94.5,147.1 L95.2,146.1 L96.2,145.1 L97.5,144.2 L99.2,143.2 L101.1,142.2 L103.3,141.3 L105.7,140.5 L108.4,139.7 L111.5,139.0 L114.8,138.3 L118.5,137.7 L122.3,137.1 L126.3,136.6 L130.2,136.1 L134.2,135.7 L138.3,135.3 L142.6,134.9 L146.8,134.6 L151.0,134.4 L155.1,134.1 L159.3,133.8 L163.7,133.6 L168.1,133.4 L172.2,133.3 L175.6,133.1 L178.1,133.0 L177.9,130.0 L175.5,130.1 L172.1,130.2 L168.0,130.3 L163.6,130.5 L159.1,130.7 L154.9,130.9 L150.8,131.2 L146.6,131.4 L142.3,131.8 L138.0,132.1 L133.9,132.5 L129.8,132.9 L125.9,133.4 L121.9,133.9 L118.0,134.4 L114.3,135.0 L110.8,135.6 L107.6,136.3 L104.7,137.1 L102.1,138.0 L99.7,138.9 L97.5,139.8 L95.6,140.8 L93.8,141.9 L92.2,143.1 L90.9,144.5 L89.8,145.9 L89.1,147.2 L88.5,148.1 L88.1,148.7 Z"/>
<path d="M213.7,84.2 L212.2,86.5 L210.0,89.7 L207.5,93.5 L204.8,97.5 L202.2,101.6 L200.0,105.2 L198.0,108.6 L196.1,111.8 L194.2,115.1 L192.5,118.4 L190.8,121.8 L189.3,125.3 L188.0,128.9 L186.8,132.5 L185.7,136.1 L184.9,139.6 L184.2,142.8 L183.7,145.7 L183.3,148.3 L183.1,150.7 L183.1,152.9 L183.3,155.0 L183.6,156.9 L184.1,158.7 L184.7,160.4 L185.6,162.0 L186.7,163.4 L188.2,164.5 L189.8,165.2 L191.5,165.5 L193.2,165.3 L194.7,164.9 L196.3,164.3 L197.8,163.5 L199.3,162.6 L200.9,161.7 L202.7,160.5 L204.5,159.1 L206.4,157.6 L208.3,156.1 L210.2,154.6 L211.9,153.2 L213.6,151.8 L215.3,150.4 L217.0,149.0 L218.5,147.8 L219.8,146.7 L220.7,145.9 L219.3,144.1 L218.3,144.8 L217.0,145.8 L215.4,147.0 L213.6,148.2 L211.8,149.6 L210.1,150.8 L208.3,152.1 L206.4,153.5 L204.4,155.0 L202.5,156.3 L200.7,157.5 L199.1,158.3 L197.5,159.0 L196.1,159.5 L194.8,159.8 L193.7,159.9 L192.9,159.8 L192.5,159.5 L192.4,159.3 L192.5,159.1 L192.6,158.8 L192.8,158.5 L192.8,158.0 L192.9,157.3 L193.1,156.3 L193.3,155.2 L193.7,153.9 L194.1,152.3 L194.7,150.5 L195.3,148.3 L196.1,145.8 L197.1,143.0 L198.1,139.9 L199.2,136.7 L200.4,133.6 L201.7,130.7 L203.1,127.8 L204.7,124.9 L206.4,122.0 L208.2,118.9 L210.1,115.7 L212.0,112.4 L214.1,108.7 L216.4,104.6 L218.8,100.4 L221.0,96.5 L223.0,93.2 L224.3,90.8 Z"/>
<path d="M249.7,83.6 L248.0,85.9 L245.6,89.2 L242.8,93.1 L239.8,97.3 L237.0,101.4 L234.5,105.2 L232.4,108.5 L230.5,111.8 L228.6,115.1 L226.8,118.5 L225.2,122.0 L223.7,125.5 L222.5,129.2 L221.5,133.0 L220.8,136.6 L220.2,140.1 L219.8,143.3 L219.5,146.2 L219.5,148.9 L219.6,151.4 L219.9,153.6 L220.4,155.7 L221.0,157.5 L221.7,159.2 L222.4,160.8 L223.3,162.3 L224.4,163.7 L225.6,164.9 L227.0,165.8 L228.5,166.6 L230.3,167.1 L232.2,167.2 L234.0,167.1 L235.6,167.0 L236.9,166.8 L237.8,166.7 L238.2,164.3 L237.2,164.0 L235.9,163.6 L234.5,163.1 L233.1,162.6 L232.0,162.0 L231.5,161.4 L231.2,160.8 L230.9,160.2 L230.7,159.5 L230.5,158.8 L230.4,157.9 L230.3,156.8 L230.3,155.6 L230.4,154.3 L230.5,153.0 L230.7,151.5 L231.0,149.8 L231.5,147.8 L232.0,145.3 L232.6,142.4 L233.4,139.4 L234.2,136.3 L235.2,133.3 L236.3,130.5 L237.6,127.7 L239.1,125.0 L240.7,122.1 L242.6,119.0 L244.5,115.8 L246.5,112.4 L248.6,108.6 L251.0,104.4 L253.5,100.0 L255.9,95.9 L257.9,92.3 L259.3,89.8 Z"/>
<path d="M272.3,97.3 L271.7,98.1 L270.8,99.1 L269.7,100.4 L268.5,101.7 L267.4,103.1 L266.3,104.3 L265.3,105.6 L264.2,107.1 L263.2,108.5 L262.2,109.8 L261.3,110.9 L260.7,111.7 L264.3,115.3 L265.1,114.7 L266.2,113.8 L267.5,112.8 L268.9,111.8 L270.4,110.7 L271.7,109.7 L272.9,108.6 L274.3,107.5 L275.6,106.3 L276.9,105.2 L277.9,104.3 L278.7,103.7 Z"/>
<path d="M254.0,121.9 L253.1,123.2 L251.8,125.1 L250.2,127.3 L248.5,129.6 L246.9,132.0 L245.5,134.3 L244.3,136.4 L243.0,138.5 L241.9,140.7 L240.7,143.0 L239.8,145.2 L239.0,147.4 L238.5,149.6 L238.3,151.7 L238.3,153.6 L238.5,155.5 L238.9,157.1 L239.4,158.6 L240.2,160.0 L241.2,161.3 L242.5,162.3 L244.1,162.9 L245.7,163.2 L247.3,163.0 L248.8,162.4 L250.3,161.6 L251.7,160.7 L253.1,159.6 L254.5,158.5 L256.0,157.3 L257.6,155.8 L259.4,154.2 L261.3,152.4 L263.0,150.7 L264.4,149.3 L265.5,148.2 L263.7,146.4 L262.6,147.3 L261.1,148.7 L259.3,150.4 L257.5,152.0 L255.6,153.5 L254.0,154.7 L252.5,155.7 L251.1,156.6 L249.6,157.3 L248.4,157.8 L247.3,158.0 L246.7,158.0 L246.4,157.8 L246.4,157.6 L246.4,157.4 L246.5,157.1 L246.5,156.8 L246.6,156.4 L246.6,155.8 L246.7,155.0 L246.9,154.0 L247.1,152.9 L247.5,151.7 L248.0,150.6 L248.7,149.2 L249.6,147.6 L250.7,145.8 L252.0,143.8 L253.2,141.8 L254.5,139.7 L255.8,137.6 L257.2,135.2 L258.6,132.7 L260.0,130.5 L261.1,128.5 L262.0,127.1 Z"/>
<path d="M262.9,151.2 L264.3,150.3 L266.2,149.0 L268.5,147.4 L271.0,145.8 L273.6,144.1 L276.0,142.6 L278.5,141.2 L281.1,139.7 L283.9,138.3 L286.6,136.8 L289.1,135.3 L291.3,133.8 L293.2,132.3 L294.9,130.8 L296.4,129.2 L297.6,127.7 L298.6,126.1 L299.2,124.3 L299.1,122.3 L298.3,120.5 L297.2,119.0 L295.9,117.9 L294.4,116.9 L292.9,116.1 L291.3,115.6 L289.5,115.2 L287.6,115.0 L285.4,115.1 L283.2,115.5 L280.9,116.3 L278.6,117.5 L276.3,119.0 L274.1,120.7 L272.0,122.5 L270.0,124.5 L268.2,126.5 L266.5,128.5 L265.0,130.7 L263.6,133.0 L262.4,135.4 L261.4,138.0 L260.7,140.6 L260.3,143.2 L260.3,145.8 L260.5,148.3 L261.1,150.8 L261.9,153.1 L263.0,155.4 L264.4,157.4 L266.1,159.3 L268.0,161.0 L270.0,162.5 L272.2,163.8 L274.4,164.7 L276.8,165.2 L279.1,165.3 L281.4,165.2 L283.6,164.8 L285.7,164.3 L287.8,163.6 L290.0,162.6 L292.2,161.3 L294.3,159.9 L296.3,158.6 L297.9,157.4 L299.0,156.6 L297.0,153.4 L295.8,154.0 L294.0,155.0 L292.0,156.1 L289.9,157.1 L287.9,157.9 L286.2,158.4 L284.6,158.6 L282.9,158.6 L281.2,158.5 L279.8,158.3 L278.5,157.9 L277.6,157.3 L276.7,156.6 L275.7,155.5 L274.8,154.3 L274.0,153.0 L273.3,151.8 L273.0,150.6 L272.8,149.6 L272.7,148.4 L272.7,147.2 L272.9,145.9 L273.1,144.7 L273.3,143.4 L273.7,142.1 L274.3,140.6 L275.0,138.9 L275.9,137.1 L276.8,135.3 L277.8,133.5 L278.9,131.7 L280.2,129.8 L281.5,127.9 L282.8,126.2 L284.1,124.7 L285.1,123.7 L286.0,123.0 L287.0,122.5 L288.1,122.1 L289.2,121.9 L290.2,121.8 L291.1,121.9 L292.0,122.0 L292.9,122.4 L293.8,122.8 L294.4,123.3 L294.7,123.6 L294.8,123.7 L294.6,124.2 L294.1,125.1 L293.1,126.3 L291.8,127.5 L290.3,128.8 L288.7,130.2 L286.7,131.6 L284.4,133.1 L281.8,134.6 L279.1,136.2 L276.5,137.8 L274.0,139.4 L271.5,141.1 L269.0,142.9 L266.6,144.7 L264.4,146.4 L262.5,147.8 L261.1,148.8 Z"/>
<path d="M365.1,85.5 L363.4,88.0 L361.1,91.5 L358.3,95.7 L355.3,100.2 L352.5,104.7 L350.1,108.8 L348.0,112.6 L346.1,116.4 L344.3,120.1 L342.7,123.6 L341.2,127.1 L339.8,130.3 L338.6,133.4 L337.4,136.4 L336.4,139.3 L335.5,142.1 L334.8,144.9 L334.2,147.5 L333.8,150.0 L333.5,152.4 L333.4,154.6 L333.5,156.8 L333.8,158.9 L334.3,160.9 L335.2,162.9 L336.4,164.6 L337.7,165.9 L339.0,166.9 L340.2,167.6 L341.3,168.2 L342.6,168.6 L343.9,168.8 L345.0,168.6 L345.9,168.4 L346.5,168.1 L346.9,168.0 L347.1,166.0 L346.6,165.8 L346.0,165.5 L345.5,165.1 L345.0,164.7 L344.8,164.3 L344.7,163.8 L344.4,163.1 L344.0,162.2 L343.7,161.3 L343.5,160.5 L343.5,159.8 L343.7,159.1 L343.8,158.2 L344.0,157.0 L344.3,155.6 L344.7,154.1 L345.2,152.4 L345.8,150.5 L346.6,148.5 L347.4,146.3 L348.5,143.9 L349.6,141.4 L350.9,138.6 L352.2,135.7 L353.6,132.6 L355.1,129.3 L356.7,125.9 L358.4,122.4 L360.1,118.8 L361.9,115.2 L364.0,111.3 L366.4,106.8 L369.0,102.2 L371.4,97.8 L373.4,94.1 L374.9,91.5 Z"/>
<path d="M417.1,85.7 L416.0,87.9 L414.4,91.0 L412.5,94.8 L410.4,98.9 L408.4,103.2 L406.5,107.3 L404.9,111.5 L403.3,115.8 L401.7,120.3 L400.2,124.7 L398.8,128.9 L397.6,132.9 L396.4,136.6 L395.4,140.3 L394.4,143.9 L393.5,147.3 L392.8,150.5 L392.2,153.6 L391.7,156.6 L391.4,159.5 L391.2,162.0 L391.1,164.3 L391.1,166.1 L391.0,167.4 L401.0,168.6 L401.2,167.3 L401.6,165.5 L402.0,163.5 L402.5,161.2 L403.1,158.8 L403.8,156.4 L404.7,153.7 L405.6,150.8 L406.7,147.6 L407.9,144.3 L409.1,140.8 L410.4,137.1 L411.8,133.3 L413.3,129.2 L414.8,124.9 L416.4,120.7 L417.9,116.5 L419.5,112.7 L421.1,108.8 L422.9,104.7 L424.7,100.6 L426.4,96.8 L427.8,93.7 L428.9,91.3 Z"/>
<path d="M465.9,126.9 L463.2,127.0 L459.5,127.1 L455.1,127.3 L450.2,127.5 L445.1,127.7 L439.9,127.9 L434.4,128.1 L428.4,128.3 L422.0,128.6 L415.8,128.8 L410.0,129.1 L404.9,129.4 L400.5,129.7 L396.7,130.1 L393.2,130.5 L390.1,130.9 L387.2,131.3 L384.5,131.8 L381.9,132.3 L379.5,132.9 L377.3,133.5 L375.3,134.2 L373.6,135.0 L372.1,136.0 L371.0,137.9 L370.9,140.0 L371.7,141.6 L372.8,142.8 L374.1,143.5 L375.6,144.0 L377.1,143.9 L378.5,143.7 L380.1,143.2 L381.6,142.6 L383.2,142.0 L384.6,141.4 L386.1,140.6 L387.7,139.6 L389.3,138.6 L390.8,137.6 L392.0,136.8 L392.8,136.2 L391.2,133.8 L390.3,134.3 L389.1,135.2 L387.7,136.2 L386.2,137.1 L384.7,138.0 L383.4,138.6 L382.0,139.1 L380.6,139.6 L379.2,139.9 L377.9,140.1 L376.9,140.2 L376.4,140.0 L376.2,139.8 L376.0,139.5 L375.9,139.1 L376.0,139.1 L376.1,139.6 L375.9,140.0 L376.4,139.7 L377.5,139.0 L379.0,138.3 L380.9,137.6 L383.1,136.8 L385.5,136.2 L388.0,135.7 L390.8,135.2 L393.8,134.7 L397.1,134.3 L400.9,133.9 L405.1,133.6 L410.2,133.3 L416.0,133.0 L422.2,132.7 L428.5,132.5 L434.6,132.3 L440.1,132.1 L445.2,131.9 L450.4,131.7 L455.3,131.5 L459.7,131.3 L463.4,131.2 L466.1,131.1 Z"/>
<path d="M469.5,79.0 L467.9,81.5 L465.8,85.0 L463.3,89.2 L460.6,93.7 L458.0,98.3 L455.6,102.6 L453.5,106.6 L451.4,110.8 L449.3,114.9 L447.4,119.0 L445.5,123.0 L443.7,127.0 L441.9,130.8 L440.2,134.7 L438.6,138.5 L437.0,142.3 L435.5,146.0 L434.2,149.7 L433.0,153.6 L431.9,157.5 L431.0,161.3 L430.3,164.7 L429.7,167.5 L429.2,169.6 L438.8,172.4 L439.5,170.4 L440.5,167.7 L441.7,164.5 L443.0,161.0 L444.4,157.5 L445.8,154.3 L447.3,151.0 L449.0,147.6 L450.7,144.1 L452.5,140.5 L454.4,136.8 L456.3,133.0 L458.2,129.2 L460.2,125.3 L462.2,121.3 L464.3,117.3 L466.3,113.3 L468.4,109.4 L470.6,105.3 L473.1,100.8 L475.7,96.3 L478.1,92.2 L480.1,88.6 L481.5,86.0 Z"/>
<path d="M461.7,151.3 L463.7,150.4 L466.4,149.1 L469.6,147.5 L473.1,145.8 L476.6,144.2 L479.8,142.7 L482.9,141.4 L486.1,140.1 L489.4,138.9 L492.6,137.6 L495.6,136.3 L498.2,134.9 L500.4,133.5 L502.3,132.0 L504.0,130.5 L505.4,128.9 L506.5,127.3 L507.2,125.4 L507.3,123.3 L506.6,121.4 L505.5,119.7 L504.2,118.3 L502.7,117.1 L501.0,116.2 L499.2,115.5 L497.2,115.1 L495.1,114.9 L492.8,115.0 L490.4,115.5 L488.0,116.3 L485.6,117.5 L483.3,118.9 L481.1,120.6 L478.9,122.5 L476.9,124.5 L475.1,126.6 L473.4,128.8 L471.9,131.2 L470.5,133.7 L469.3,136.3 L468.3,139.0 L467.6,141.6 L467.3,144.3 L467.3,146.8 L467.5,149.4 L468.1,151.8 L468.9,154.2 L470.0,156.3 L471.4,158.4 L473.0,160.3 L474.8,162.0 L476.9,163.6 L479.2,164.9 L481.7,165.8 L484.3,166.2 L486.9,166.1 L489.5,165.8 L492.0,165.3 L494.5,164.5 L497.0,163.6 L499.5,162.3 L502.1,160.6 L504.6,158.8 L506.8,157.1 L508.7,155.6 L510.1,154.6 L507.9,151.4 L506.5,152.3 L504.4,153.6 L502.1,155.1 L499.6,156.5 L497.2,157.7 L495.0,158.4 L493.0,158.8 L490.9,159.1 L488.9,159.2 L487.0,159.0 L485.4,158.7 L484.3,158.2 L483.4,157.5 L482.5,156.6 L481.7,155.5 L481.0,154.2 L480.4,152.9 L480.0,151.7 L479.8,150.6 L479.7,149.4 L479.7,148.3 L479.9,147.0 L480.1,145.7 L480.4,144.4 L480.8,142.8 L481.4,141.1 L482.1,139.2 L483.0,137.2 L484.0,135.2 L484.9,133.4 L486.0,131.6 L487.2,129.7 L488.4,127.9 L489.7,126.2 L491.0,124.8 L492.0,123.7 L493.1,123.0 L494.3,122.4 L495.6,122.1 L496.9,121.8 L498.1,121.8 L499.0,121.8 L499.9,122.0 L500.8,122.5 L501.7,123.1 L502.4,123.8 L502.7,124.3 L502.8,124.6 L502.6,125.2 L501.9,126.2 L500.9,127.3 L499.5,128.5 L497.8,129.8 L495.8,131.1 L493.6,132.3 L490.9,133.7 L487.8,135.0 L484.6,136.4 L481.3,137.8 L478.2,139.3 L475.0,140.9 L471.5,142.7 L468.1,144.5 L464.9,146.2 L462.3,147.6 L460.3,148.7 Z"/>
<path d="M540.1,118.0 L539.7,119.8 L539.0,122.2 L538.3,125.0 L537.5,128.1 L536.8,131.2 L536.1,134.0 L535.5,136.5 L534.9,139.2 L534.4,141.9 L533.9,144.5 L533.5,147.1 L533.3,149.5 L533.3,151.7 L533.4,153.7 L533.7,155.5 L534.1,157.2 L534.6,158.7 L535.2,160.1 L535.8,161.2 L536.6,162.3 L537.7,163.3 L539.1,163.9 L540.5,164.2 L541.9,164.2 L543.6,164.0 L545.6,163.5 L547.6,162.9 L549.6,162.3 L551.2,161.8 L552.3,161.5 L551.7,158.5 L550.5,158.7 L548.8,159.1 L546.8,159.4 L544.9,159.7 L543.2,159.9 L542.1,159.8 L541.6,159.5 L541.4,159.2 L541.6,159.1 L541.8,159.0 L541.9,158.6 L541.8,157.9 L541.8,157.1 L541.9,156.1 L542.0,155.0 L542.2,153.7 L542.4,152.2 L542.7,150.5 L543.1,148.6 L543.6,146.4 L544.1,144.0 L544.7,141.4 L545.3,138.7 L545.9,136.0 L546.4,133.2 L547.0,130.2 L547.6,127.1 L548.1,124.2 L548.6,121.7 L548.9,120.0 Z"/>
<path d="M580.9,84.3 L579.6,86.5 L577.8,89.5 L575.5,93.2 L573.2,97.2 L570.9,101.2 L568.9,105.1 L567.1,108.9 L565.5,112.8 L564.0,116.7 L562.5,120.5 L561.2,124.2 L559.9,127.7 L558.7,131.1 L557.6,134.5 L556.5,137.7 L555.5,140.8 L554.8,143.8 L554.2,146.5 L553.8,149.0 L553.7,151.2 L553.7,153.3 L553.9,155.3 L554.3,157.2 L554.9,158.9 L555.7,160.6 L556.9,162.1 L558.2,163.2 L559.7,163.9 L561.1,164.3 L562.7,164.5 L564.4,164.3 L565.9,163.7 L567.4,163.0 L568.7,162.4 L569.8,161.8 L570.5,161.4 L569.5,158.6 L568.6,158.8 L567.4,159.1 L566.1,159.5 L564.8,159.7 L563.8,159.7 L563.3,159.5 L563.1,159.2 L562.9,158.8 L562.8,158.3 L562.8,157.9 L563.0,157.5 L563.1,157.1 L563.4,156.4 L563.7,155.5 L564.1,154.4 L564.5,153.1 L565.1,151.4 L565.8,149.5 L566.6,147.2 L567.5,144.6 L568.5,141.8 L569.6,138.7 L570.8,135.5 L572.1,132.3 L573.4,128.9 L574.9,125.3 L576.4,121.7 L578.0,118.0 L579.6,114.4 L581.1,110.9 L582.8,107.2 L584.7,103.1 L586.6,99.1 L588.4,95.3 L589.9,92.1 L591.1,89.7 Z"/>
<path d="M606.3,91.3 L605.3,93.6 L604.0,96.9 L602.4,100.7 L600.8,104.9 L599.1,109.1 L597.6,113.1 L596.2,116.8 L594.8,120.6 L593.4,124.6 L592.1,128.5 L590.8,132.5 L589.7,136.5 L588.8,140.7 L587.9,145.1 L587.2,149.4 L586.7,153.4 L586.2,156.7 L585.8,159.1 L594.2,160.9 L594.8,158.5 L595.7,155.3 L596.8,151.5 L597.9,147.4 L599.1,143.3 L600.3,139.5 L601.5,135.9 L602.8,132.2 L604.2,128.4 L605.6,124.6 L607.1,120.8 L608.4,116.9 L609.8,112.9 L611.2,108.7 L612.6,104.4 L613.8,100.5 L614.9,97.1 L615.7,94.7 Z"/>
<path d="M578.9,115.9 L580.4,115.5 L582.5,114.9 L585.0,114.3 L587.7,113.6 L590.3,113.0 L592.7,112.4 L595.1,112.0 L597.5,111.5 L599.9,111.1 L602.3,110.7 L604.8,110.3 L607.2,110.0 L609.7,109.7 L612.6,109.5 L615.4,109.3 L618.1,109.2 L620.3,109.1 L622.0,109.0 L622.0,105.0 L620.4,104.9 L618.2,104.6 L615.5,104.4 L612.6,104.2 L609.6,104.0 L606.8,104.0 L604.2,104.1 L601.6,104.2 L599.0,104.4 L596.4,104.7 L593.8,105.1 L591.3,105.6 L588.6,106.2 L585.8,107.1 L583.1,108.0 L580.7,108.9 L578.6,109.6 L577.1,110.1 Z"/>
<path d="M634.1,83.2 L633.0,85.9 L631.5,89.5 L629.7,93.9 L627.8,98.7 L626.0,103.5 L624.3,108.1 L622.8,112.4 L621.4,116.8 L620.0,121.3 L618.7,125.8 L617.4,130.2 L616.4,134.7 L615.5,139.3 L614.9,144.1 L614.3,148.8 L613.9,153.1 L613.6,156.7 L613.3,159.3 L622.7,160.7 L623.2,158.1 L623.9,154.6 L624.7,150.4 L625.6,145.9 L626.6,141.5 L627.6,137.3 L628.7,133.3 L630.0,129.1 L631.4,124.9 L632.8,120.5 L634.3,116.2 L635.7,111.9 L637.1,107.4 L638.7,102.6 L640.3,97.8 L641.8,93.3 L643.0,89.6 L643.9,86.8 Z"/>
<path d="M621.7,141.1 L622.7,139.7 L624.0,137.9 L625.6,135.7 L627.3,133.6 L629.0,131.6 L630.4,130.2 L631.8,129.0 L633.2,128.0 L634.6,127.1 L635.8,126.4 L636.9,126.0 L637.8,125.9 L638.6,126.0 L639.6,126.1 L640.3,126.4 L640.7,126.7 L640.7,126.9 L640.6,126.9 L640.7,127.5 L640.8,129.3 L640.7,131.7 L640.6,134.4 L640.4,137.2 L640.3,139.7 L640.2,141.8 L640.0,143.9 L639.9,146.0 L639.8,148.1 L639.8,150.3 L640.0,152.3 L640.5,154.2 L641.1,155.9 L641.9,157.6 L643.1,159.2 L645.2,160.5 L647.8,160.4 L649.6,159.1 L650.9,157.5 L652.3,155.6 L653.7,153.4 L655.1,151.2 L656.5,148.9 L657.9,146.4 L659.4,143.6 L660.9,140.6 L662.3,137.8 L663.5,135.4 L664.3,133.7 L661.7,132.3 L660.8,134.0 L659.5,136.4 L658.1,139.2 L656.5,142.0 L655.0,144.8 L653.5,147.1 L652.1,149.1 L650.6,151.2 L649.1,153.1 L647.7,154.6 L646.5,155.5 L646.2,155.6 L647.2,155.5 L647.9,155.6 L647.9,155.2 L647.9,154.2 L647.9,152.9 L648.0,151.7 L648.1,150.5 L648.4,149.0 L648.7,147.1 L649.1,145.0 L649.5,142.7 L649.7,140.3 L649.9,137.9 L650.2,135.1 L650.4,132.2 L650.5,129.1 L650.2,126.1 L649.4,123.1 L647.6,120.5 L645.3,118.8 L642.8,118.0 L640.5,117.6 L638.3,117.7 L636.2,118.1 L634.2,118.8 L632.2,119.8 L630.4,121.0 L628.7,122.5 L627.1,124.1 L625.6,125.8 L624.1,127.9 L622.6,130.4 L621.3,133.0 L620.0,135.5 L619.0,137.5 L618.3,138.9 Z"/>
<path d="M177.4,200.7 L176.6,202.5 L175.4,204.9 L174.1,207.7 L172.7,210.8 L171.2,213.9 L169.9,216.9 L168.6,219.8 L167.3,222.7 L166.0,225.7 L164.7,228.7 L163.4,231.9 L162.1,235.0 L160.8,238.5 L159.5,242.2 L158.2,246.0 L156.9,249.5 L155.9,252.4 L155.2,254.6 L166.8,259.4 L167.8,257.4 L169.2,254.6 L170.8,251.3 L172.6,247.7 L174.3,244.2 L175.9,241.0 L177.3,238.0 L178.7,235.0 L180.1,232.0 L181.5,229.0 L182.8,226.1 L184.1,223.1 L185.4,220.0 L186.7,216.8 L187.9,213.5 L189.0,210.6 L189.9,208.1 L190.6,206.3 Z"/>
<path d="M160.9,227.6 L159.9,226.7 L158.4,225.7 L156.7,224.5 L155.2,223.2 L153.9,221.9 L153.2,220.7 L152.8,219.4 L152.4,217.8 L152.2,216.1 L152.2,214.3 L152.5,212.7 L153.0,211.0 L153.8,209.3 L155.0,207.4 L156.4,205.5 L158.1,203.6 L160.1,201.7 L162.3,199.9 L164.9,198.2 L167.8,196.5 L171.1,194.8 L174.5,193.2 L178.1,191.7 L181.7,190.3 L185.5,188.9 L189.5,187.5 L193.6,186.3 L197.7,185.1 L201.8,184.2 L205.6,183.6 L209.4,183.1 L213.4,182.9 L217.3,182.8 L220.9,182.9 L224.2,183.3 L226.7,183.8 L228.8,184.6 L230.5,185.6 L232.1,186.8 L233.3,188.2 L234.1,189.5 L234.6,190.7 L234.8,192.0 L234.7,193.5 L234.2,195.3 L233.4,197.2 L232.2,199.1 L230.8,200.7 L228.9,202.3 L226.4,203.9 L223.4,205.4 L220.2,207.0 L216.9,208.4 L213.6,209.8 L210.5,211.2 L207.3,212.4 L204.0,213.6 L200.7,214.8 L197.4,215.9 L194.1,217.0 L190.6,218.0 L186.9,219.1 L183.1,220.2 L179.6,221.1 L176.6,221.9 L174.4,222.5 L175.6,227.5 L177.8,227.1 L180.8,226.5 L184.4,225.7 L188.3,224.9 L192.2,224.0 L195.9,223.0 L199.3,222.1 L202.7,221.1 L206.2,220.0 L209.7,218.8 L213.1,217.6 L216.4,216.2 L219.7,214.7 L223.1,213.0 L226.5,211.3 L229.7,209.4 L232.7,207.4 L235.2,205.3 L237.3,202.9 L239.0,200.3 L240.3,197.7 L241.2,194.9 L241.6,192.1 L241.4,189.3 L240.6,186.6 L239.2,184.1 L237.4,181.7 L235.2,179.5 L232.4,177.6 L229.3,176.2 L225.7,175.2 L221.8,174.5 L217.6,174.1 L213.2,174.0 L208.8,174.1 L204.4,174.4 L200.0,175.1 L195.5,176.1 L191.0,177.2 L186.6,178.6 L182.3,180.1 L178.3,181.7 L174.4,183.5 L170.7,185.4 L167.0,187.4 L163.6,189.6 L160.5,191.8 L157.7,194.1 L155.1,196.4 L152.9,198.9 L151.0,201.4 L149.3,203.9 L148.0,206.4 L147.0,209.0 L146.4,211.6 L146.2,214.2 L146.4,216.7 L146.9,219.1 L147.7,221.2 L148.8,223.3 L150.3,225.2 L152.3,226.8 L154.4,228.0 L156.4,229.0 L158.0,229.8 L159.1,230.4 Z"/>
<path d="M151.3,232.3 L151.8,232.6 L152.6,233.2 L153.7,233.8 L155.0,234.5 L156.5,234.9 L158.2,235.0 L159.9,234.5 L161.8,233.7 L163.6,232.7 L165.3,231.7 L166.7,230.9 L167.7,230.3 L166.3,227.7 L165.2,228.3 L163.8,229.1 L162.1,230.1 L160.4,231.0 L158.9,231.7 L157.8,232.0 L157.0,232.0 L156.1,231.7 L155.2,231.2 L154.3,230.6 L153.4,230.1 L152.7,229.7 Z"/>
<path d="M226.0,253.9 L226.7,252.1 L227.5,249.7 L228.5,246.9 L229.6,243.9 L230.6,240.9 L231.6,238.1 L232.5,235.5 L233.4,232.7 L234.2,230.1 L235.0,227.6 L235.8,225.4 L236.4,223.5 L236.9,221.9 L237.3,220.6 L237.5,219.7 L237.5,219.2 L237.5,218.9 L237.7,218.4 L238.1,217.9 L238.8,217.3 L239.6,216.7 L240.4,216.3 L241.2,215.9 L241.9,215.6 L242.7,215.4 L244.0,215.5 L245.7,215.7 L247.3,216.1 L248.8,216.4 L249.9,216.7 L252.1,211.3 L251.2,210.8 L249.9,209.9 L248.3,208.9 L246.5,207.9 L244.4,206.9 L242.1,206.4 L239.9,206.3 L237.8,206.6 L235.8,207.0 L233.9,207.7 L232.1,208.5 L230.3,209.6 L228.7,210.8 L227.3,212.3 L226.1,213.8 L225.2,215.3 L224.4,216.8 L223.6,218.5 L222.7,220.6 L221.8,223.1 L220.9,225.8 L220.0,228.5 L219.2,231.2 L218.4,233.9 L217.6,236.7 L216.7,239.8 L215.9,243.0 L215.1,245.9 L214.4,248.4 L214.0,250.1 Z"/>
<path d="M271.4,223.3 L272.5,223.8 L274.0,224.5 L275.8,225.5 L277.8,226.3 L279.9,227.0 L281.9,227.4 L284.0,227.3 L286.1,226.8 L288.1,226.1 L289.9,225.3 L291.4,224.7 L292.5,224.3 L291.5,221.7 L290.4,222.1 L288.9,222.7 L287.1,223.4 L285.3,224.1 L283.6,224.5 L282.1,224.6 L280.6,224.3 L278.8,223.7 L277.0,222.9 L275.2,222.0 L273.7,221.3 L272.6,220.7 Z"/>
<path d="M310.9,194.0 L310.0,196.0 L308.7,198.8 L307.2,202.1 L305.5,205.8 L303.9,209.6 L302.3,213.4 L300.8,217.2 L299.3,221.2 L297.7,225.3 L296.2,229.5 L294.7,233.6 L293.3,237.5 L291.9,241.3 L290.5,245.1 L289.2,248.9 L287.9,252.6 L286.7,256.3 L285.7,260.0 L284.8,263.8 L284.2,267.7 L283.6,271.5 L283.2,275.0 L282.8,277.8 L282.5,279.9 L291.5,282.1 L292.2,280.1 L293.2,277.4 L294.4,274.2 L295.7,270.8 L297.0,267.3 L298.3,264.0 L299.6,260.7 L300.9,257.3 L302.3,253.8 L303.8,250.1 L305.3,246.3 L306.7,242.5 L308.2,238.6 L309.8,234.5 L311.3,230.4 L312.8,226.3 L314.3,222.3 L315.7,218.6 L317.1,214.9 L318.5,211.1 L319.9,207.4 L321.2,204.0 L322.3,201.1 L323.1,199.0 Z"/>
<path d="M261.4,248.9 L264.0,248.3 L267.6,247.6 L271.8,246.7 L276.4,245.8 L281.1,244.8 L285.4,243.9 L289.5,242.9 L293.6,241.9 L297.8,240.9 L301.9,239.9 L306.2,238.8 L310.4,237.9 L315.1,236.8 L320.2,235.8 L325.3,234.7 L330.2,233.7 L334.2,232.9 L337.2,232.3 L336.4,228.5 L333.5,229.1 L329.4,230.0 L324.6,231.0 L319.4,232.0 L314.3,233.1 L309.6,234.1 L305.3,235.1 L301.0,236.2 L296.9,237.2 L292.7,238.2 L288.6,239.2 L284.6,240.1 L280.3,241.1 L275.6,242.1 L271.1,243.0 L266.8,243.9 L263.2,244.6 L260.6,245.1 Z"/>
<path d="M318.8,249.5 L320.4,248.7 L322.7,247.5 L325.3,246.2 L328.1,244.7 L330.8,243.3 L333.2,242.0 L335.2,240.9 L337.3,239.9 L339.3,238.8 L341.3,237.7 L343.2,236.3 L344.9,234.7 L346.4,232.9 L347.7,231.0 L348.8,228.9 L349.8,226.7 L350.4,224.5 L350.9,222.2 L351.0,219.9 L350.8,217.4 L350.3,214.9 L349.7,212.5 L348.7,210.3 L347.1,208.3 L344.8,206.9 L342.3,206.4 L339.9,206.5 L337.5,206.9 L335.1,207.7 L332.8,208.9 L330.5,210.5 L328.3,212.4 L326.1,214.6 L324.0,216.9 L322.1,219.4 L320.5,221.9 L319.2,224.5 L318.2,227.2 L317.4,229.9 L316.9,232.6 L316.6,235.3 L316.5,238.0 L316.7,240.6 L317.2,243.3 L317.9,245.8 L318.9,248.3 L320.3,250.7 L322.1,253.0 L324.2,254.7 L326.6,255.9 L329.0,256.7 L331.4,257.1 L333.7,257.2 L336.1,257.0 L338.3,256.5 L340.4,255.6 L342.3,254.6 L344.0,253.5 L345.7,252.4 L347.3,251.2 L349.1,249.9 L351.0,248.5 L352.8,246.9 L354.6,245.5 L356.0,244.3 L357.0,243.4 L355.0,240.6 L353.8,241.3 L352.3,242.4 L350.4,243.6 L348.4,244.8 L346.5,245.9 L344.7,246.8 L343.0,247.5 L341.3,248.2 L339.6,248.8 L338.1,249.1 L336.9,249.2 L335.9,249.0 L335.0,248.6 L334.0,247.9 L333.1,247.2 L332.4,246.4 L332.0,245.6 L331.9,245.0 L331.9,244.4 L331.7,243.5 L331.6,242.3 L331.5,240.9 L331.4,239.4 L331.5,238.0 L331.6,236.5 L331.8,234.9 L332.1,233.2 L332.5,231.5 L332.9,229.8 L333.5,228.1 L334.2,226.3 L335.1,224.2 L336.2,222.1 L337.3,220.0 L338.3,218.3 L339.2,217.1 L340.0,216.1 L341.0,215.3 L341.9,214.7 L342.6,214.3 L342.9,214.0 L342.9,213.7 L343.2,213.9 L343.8,214.9 L344.4,216.5 L344.8,218.3 L345.1,220.1 L345.1,221.8 L345.0,223.3 L344.5,224.9 L343.9,226.6 L343.1,228.3 L342.1,229.9 L341.1,231.3 L339.9,232.4 L338.5,233.5 L336.8,234.5 L335.0,235.6 L332.9,236.7 L330.8,238.0 L328.6,239.5 L326.0,241.1 L323.3,242.7 L320.8,244.2 L318.7,245.6 L317.2,246.5 Z"/>
<path d="M356.1,232.9 L357.0,231.8 L358.1,230.2 L359.4,228.4 L360.8,226.6 L362.2,225.0 L363.4,223.7 L364.6,222.6 L365.7,221.5 L366.9,220.5 L368.0,219.6 L369.0,218.9 L369.9,218.3 L370.9,217.8 L371.9,217.3 L372.9,216.8 L373.7,216.5 L374.5,216.1 L375.0,215.8 L375.7,215.5 L377.1,215.2 L379.0,215.1 L380.9,215.1 L382.7,215.2 L384.0,215.2 L386.0,209.8 L385.1,209.0 L383.8,207.9 L382.1,206.5 L380.1,205.1 L377.7,203.9 L375.0,203.2 L372.4,203.2 L370.0,203.6 L367.8,204.3 L365.7,205.3 L363.8,206.4 L362.1,207.7 L360.4,209.1 L358.9,210.8 L357.6,212.6 L356.5,214.4 L355.5,216.3 L354.6,218.3 L353.8,220.6 L353.2,223.1 L352.7,225.6 L352.4,227.9 L352.1,229.8 L351.9,231.1 Z"/>
<path d="M349.8,235.3 L351.6,235.5 L354.0,235.8 L356.8,236.1 L359.9,236.5 L363.0,236.9 L365.8,237.3 L368.4,237.8 L371.2,238.5 L373.9,239.2 L376.7,239.8 L379.5,240.2 L382.1,240.3 L384.7,239.8 L387.2,238.9 L389.6,237.9 L391.7,236.7 L393.4,235.8 L394.6,235.2 L393.4,232.8 L392.1,233.5 L390.4,234.5 L388.4,235.5 L386.3,236.5 L384.0,237.3 L381.9,237.7 L379.7,237.7 L377.2,237.3 L374.6,236.7 L371.8,236.0 L369.0,235.3 L366.2,234.7 L363.3,234.3 L360.2,233.9 L357.2,233.5 L354.3,233.2 L351.9,232.9 L350.2,232.7 Z"/>
<path d="M392.1,232.9 L393.0,231.8 L394.1,230.2 L395.4,228.4 L396.8,226.6 L398.2,225.0 L399.4,223.7 L400.6,222.6 L401.7,221.5 L402.9,220.5 L404.0,219.6 L405.0,218.9 L405.9,218.3 L406.9,217.8 L407.9,217.3 L408.9,216.8 L409.7,216.5 L410.5,216.1 L411.0,215.8 L411.7,215.5 L413.1,215.2 L415.0,215.1 L416.9,215.1 L418.7,215.2 L420.0,215.2 L422.0,209.8 L421.1,209.0 L419.8,207.9 L418.1,206.5 L416.1,205.1 L413.7,203.9 L411.0,203.2 L408.4,203.2 L406.0,203.6 L403.8,204.3 L401.7,205.3 L399.8,206.4 L398.1,207.7 L396.4,209.1 L394.9,210.8 L393.6,212.6 L392.5,214.4 L391.5,216.3 L390.6,218.3 L389.8,220.6 L389.2,223.1 L388.7,225.6 L388.4,227.9 L388.1,229.8 L387.9,231.1 Z"/>
<path d="M388.2,239.3 L389.8,239.0 L391.8,238.6 L394.2,238.1 L396.8,237.7 L399.5,237.4 L401.9,237.3 L404.2,237.6 L406.6,238.3 L409.1,239.2 L411.9,240.0 L414.9,240.4 L418.2,240.3 L422.0,239.3 L426.2,237.8 L430.5,235.9 L434.6,234.0 L438.1,232.3 L440.5,231.2 L439.5,228.8 L437.0,229.9 L433.5,231.6 L429.5,233.5 L425.2,235.4 L421.2,236.9 L417.8,237.7 L415.0,237.8 L412.4,237.4 L409.9,236.7 L407.4,235.8 L404.8,235.1 L402.1,234.7 L399.3,234.8 L396.5,235.1 L393.8,235.5 L391.3,236.0 L389.2,236.4 L387.8,236.7 Z"/>
<path d="M457.6,188.1 L456.9,188.9 L456.1,190.0 L455.1,191.3 L454.0,192.7 L452.9,194.1 L452.0,195.3 L451.1,196.6 L450.2,198.1 L449.3,199.5 L448.4,200.8 L447.7,202.0 L447.2,202.8 L450.8,206.2 L451.6,205.6 L452.7,204.8 L454.0,203.9 L455.4,202.8 L456.7,201.7 L458.0,200.7 L459.2,199.5 L460.5,198.2 L461.7,196.9 L462.8,195.7 L463.7,194.7 L464.4,193.9 Z"/>
<path d="M446.9,209.4 L446.0,210.9 L444.9,213.0 L443.5,215.4 L442.1,218.1 L440.6,220.7 L439.3,223.2 L438.2,225.6 L437.0,228.0 L435.9,230.4 L434.8,232.7 L433.7,235.0 L432.7,237.1 L431.6,239.3 L430.4,241.7 L429.3,244.0 L428.2,246.2 L427.2,248.0 L426.6,249.4 L435.4,254.6 L436.3,253.4 L437.5,251.7 L438.9,249.7 L440.4,247.5 L441.9,245.2 L443.3,242.9 L444.6,240.6 L445.9,238.3 L447.1,235.9 L448.3,233.5 L449.5,231.2 L450.7,228.8 L451.9,226.3 L453.1,223.6 L454.4,220.8 L455.5,218.3 L456.4,216.1 L457.1,214.6 Z"/>
<path d="M470.0,227.4 L470.8,227.4 L471.9,227.5 L473.3,227.5 L474.8,227.5 L476.5,227.5 L478.1,227.4 L480.0,227.1 L482.1,226.8 L484.3,226.4 L486.3,226.0 L488.0,225.6 L489.3,225.4 L488.7,222.6 L487.5,222.9 L485.8,223.2 L483.7,223.6 L481.6,224.0 L479.6,224.4 L477.9,224.6 L476.3,224.7 L474.8,224.7 L473.3,224.7 L472.0,224.7 L470.9,224.6 L470.0,224.6 Z"/>
<path d="M495.4,208.2 L494.7,209.7 L493.6,211.9 L492.4,214.4 L491.1,217.1 L489.8,219.8 L488.6,222.3 L487.6,224.6 L486.5,226.9 L485.5,229.3 L484.4,231.7 L483.4,234.1 L482.5,236.6 L481.7,239.2 L481.0,241.9 L480.4,244.5 L479.9,246.9 L479.5,248.9 L479.2,250.3 L490.8,253.7 L491.3,252.3 L492.0,250.4 L492.8,248.2 L493.7,245.9 L494.6,243.5 L495.5,241.4 L496.3,239.3 L497.3,237.2 L498.3,234.9 L499.3,232.6 L500.4,230.2 L501.4,227.7 L502.3,225.1 L503.4,222.2 L504.4,219.3 L505.3,216.7 L506.0,214.4 L506.6,212.8 Z"/>
<path d="M490.0,237.2 L491.1,235.7 L492.6,233.6 L494.4,231.1 L496.3,228.6 L498.2,226.2 L499.9,224.3 L501.6,222.8 L503.3,221.3 L504.9,219.9 L506.6,218.8 L508.0,217.9 L509.3,217.3 L510.5,216.9 L511.6,216.6 L512.5,216.5 L513.1,216.5 L513.2,216.6 L513.0,216.6 L513.0,216.7 L513.4,217.4 L513.8,218.5 L514.3,219.9 L514.7,221.5 L515.1,223.1 L515.3,224.8 L515.4,226.9 L515.5,229.1 L515.5,231.5 L515.4,234.0 L515.3,236.3 L515.1,238.7 L514.8,241.3 L514.5,244.0 L514.1,246.6 L513.8,248.8 L513.5,250.5 L522.5,252.5 L523.0,251.0 L523.7,248.9 L524.5,246.3 L525.4,243.5 L526.2,240.5 L526.7,237.7 L527.1,234.9 L527.3,232.2 L527.5,229.3 L527.5,226.4 L527.3,223.6 L526.9,220.9 L526.3,218.3 L525.4,215.8 L524.3,213.5 L522.9,211.3 L521.2,209.2 L519.0,207.4 L516.2,206.3 L513.6,205.9 L511.1,206.2 L508.8,206.7 L506.7,207.6 L504.7,208.7 L502.7,210.1 L500.9,211.7 L499.1,213.5 L497.3,215.4 L495.7,217.5 L494.1,219.7 L492.5,222.2 L490.9,225.1 L489.4,228.0 L488.0,230.8 L486.9,233.2 L486.0,234.8 Z"/>
<path d="M571.2,209.0 L570.6,210.6 L569.8,213.0 L568.9,215.7 L568.0,218.7 L567.0,221.7 L566.3,224.4 L565.7,226.9 L565.1,229.4 L564.5,231.9 L564.1,234.3 L563.7,236.7 L563.5,238.9 L563.4,241.2 L563.5,243.4 L563.7,245.4 L564.0,247.2 L564.3,248.6 L564.4,249.6 L573.6,250.4 L573.9,249.3 L574.4,247.9 L574.9,246.3 L575.4,244.6 L576.0,242.8 L576.5,241.1 L577.0,239.2 L577.6,237.1 L578.1,234.8 L578.6,232.5 L579.2,230.0 L579.7,227.6 L580.3,225.0 L580.9,222.0 L581.5,219.0 L582.0,216.2 L582.5,213.8 L582.8,212.0 Z"/>
<path d="M608.3,183.7 L607.3,185.5 L605.9,187.9 L604.3,190.8 L602.6,194.0 L600.9,197.3 L599.3,200.5 L597.9,203.6 L596.4,206.8 L595.0,210.1 L593.7,213.4 L592.4,216.6 L591.2,219.7 L590.1,222.6 L589.0,225.5 L587.9,228.4 L587.0,231.2 L586.2,233.8 L585.5,236.3 L585.0,238.5 L584.6,240.6 L584.3,242.6 L584.1,244.6 L584.2,246.6 L584.5,248.6 L585.3,250.5 L586.4,252.1 L587.9,253.4 L589.6,254.3 L591.5,254.7 L593.3,254.5 L594.7,254.0 L596.0,253.3 L597.4,252.3 L598.9,251.1 L600.5,249.4 L602.4,247.1 L604.7,243.9 L607.7,239.7 L610.8,235.0 L613.8,230.5 L616.4,226.5 L618.2,223.8 L615.8,222.2 L613.9,224.8 L611.3,228.7 L608.2,233.2 L605.0,237.8 L602.0,241.9 L599.6,244.9 L597.8,246.8 L596.3,248.2 L595.1,249.0 L594.1,249.4 L593.3,249.6 L592.7,249.5 L592.6,249.3 L592.7,249.0 L592.9,248.6 L593.1,248.2 L593.2,247.8 L593.5,247.4 L593.7,246.9 L594.0,246.1 L594.5,244.9 L595.0,243.4 L595.7,241.7 L596.5,239.7 L597.3,237.6 L598.3,235.3 L599.3,232.7 L600.4,230.0 L601.6,227.2 L602.8,224.3 L604.0,221.4 L605.4,218.2 L606.7,215.0 L608.1,211.8 L609.4,208.6 L610.7,205.5 L612.0,202.4 L613.4,199.1 L614.7,195.8 L615.9,192.7 L617.0,190.1 L617.7,188.3 Z"/>
<path fill-rule="evenodd" d="M532.7,145.9 L531.6,147.9 L530.4,149.8 L529.1,151.5 L527.7,153.2 L526.2,154.7 L524.6,156.0 L522.9,157.2 L521.1,158.1 L519.2,158.8 L517.2,159.2 L515.0,159.1 L512.9,158.6 L510.9,157.5 L509.1,156.1 L507.6,154.3 L506.5,152.2 L505.7,150.0 L505.3,147.6 L505.1,145.2 L505.3,142.7 L505.7,140.2 L506.3,137.7 L507.2,135.3 L508.4,133.0 L509.7,130.8 L511.3,128.7 L513.0,126.8 L514.8,125.1 L516.8,123.7 L518.9,122.5 L521.1,121.6 L523.4,121.0 L525.6,120.9 L527.9,121.1 L530.0,121.7 L531.9,122.8 L533.5,124.2 L534.7,125.9 L535.5,127.7 L536.0,129.6 L536.3,131.5 L536.3,133.5 L536.1,135.6 L535.7,137.6 L535.2,139.7 L534.5,141.8 L533.6,143.9 Z M530.0,142.3 L530.6,140.5 L531.1,138.7 L531.3,137.0 L531.4,135.3 L531.2,133.8 L530.9,132.5 L530.4,131.4 L529.8,130.6 L529.2,130.1 L528.6,129.9 L528.1,130.0 L527.7,130.1 L527.3,130.3 L526.8,130.6 L526.3,131.0 L525.6,131.6 L524.8,132.2 L524.0,133.0 L523.2,134.0 L522.3,135.1 L521.4,136.4 L520.6,137.7 L519.8,139.1 L519.2,140.5 L518.6,141.9 L518.1,143.4 L517.7,144.7 L517.4,145.9 L517.2,147.1 L517.1,148.0 L517.1,148.8 L517.1,149.4 L517.0,149.9 L517.0,150.3 L517.1,150.7 L517.3,151.1 L517.7,151.4 L518.3,151.7 L519.3,151.8 L520.4,151.7 L521.7,151.2 L523.0,150.6 L524.4,149.7 L525.7,148.5 L527.0,147.2 L528.1,145.7 L529.1,144.0 Z"/>
<path fill-rule="evenodd" d="M335.5,147.1 L334.7,149.0 L333.7,150.8 L332.5,152.6 L331.2,154.2 L329.7,155.7 L328.1,157.0 L326.3,158.1 L324.4,159.0 L322.4,159.6 L320.3,160.0 L318.1,159.9 L315.9,159.6 L313.8,158.8 L311.7,157.7 L309.9,156.2 L308.3,154.4 L306.9,152.4 L305.9,150.1 L305.2,147.8 L304.8,145.3 L304.7,142.7 L304.9,140.2 L305.5,137.7 L306.3,135.3 L307.4,133.0 L308.8,130.8 L310.5,128.8 L312.3,127.1 L314.3,125.7 L316.5,124.5 L318.8,123.7 L321.1,123.2 L323.5,123.0 L325.8,123.3 L327.9,123.9 L330.0,124.8 L331.7,126.0 L333.3,127.5 L334.5,129.1 L335.5,130.9 L336.3,132.8 L336.8,134.8 L337.1,136.9 L337.2,138.9 L337.0,141.0 L336.7,143.0 L336.2,145.1 Z M332.4,144.0 L332.7,142.3 L332.8,140.7 L332.7,139.1 L332.4,137.6 L332.0,136.3 L331.3,135.1 L330.5,134.1 L329.7,133.3 L328.7,132.8 L327.8,132.4 L326.9,132.3 L326.0,132.4 L325.2,132.5 L324.4,132.8 L323.6,133.2 L322.9,133.8 L322.1,134.4 L321.4,135.1 L320.7,136.0 L320.0,136.9 L319.4,137.9 L318.8,139.0 L318.4,140.1 L318.0,141.3 L317.7,142.4 L317.5,143.6 L317.3,144.7 L317.3,145.8 L317.3,146.8 L317.5,147.7 L317.7,148.6 L317.9,149.3 L318.3,150.1 L318.7,150.7 L319.2,151.3 L319.9,151.8 L320.7,152.2 L321.7,152.5 L322.8,152.6 L324.0,152.5 L325.3,152.1 L326.6,151.5 L327.9,150.7 L329.1,149.7 L330.1,148.4 L331.0,147.1 L331.8,145.6 Z"/>
<path fill-rule="evenodd" d="M275.3,238.8 L274.5,240.9 L273.5,243.0 L272.5,245.0 L271.3,246.8 L270.1,248.6 L268.8,250.2 L267.5,251.6 L266.0,252.8 L264.3,253.9 L262.4,254.6 L260.3,254.9 L258.1,254.6 L256.0,253.6 L254.2,252.2 L252.8,250.4 L251.7,248.4 L251.0,246.3 L250.6,244.1 L250.5,241.8 L250.6,239.4 L250.9,237.0 L251.4,234.5 L252.1,232.1 L253.0,229.7 L254.1,227.4 L255.3,225.3 L256.7,223.2 L258.2,221.3 L259.9,219.6 L261.6,218.1 L263.4,216.9 L265.4,216.0 L267.4,215.3 L269.5,215.1 L271.7,215.3 L273.6,216.1 L275.3,217.3 L276.5,218.9 L277.3,220.6 L277.8,222.3 L278.0,224.2 L278.1,226.1 L278.0,228.1 L277.7,230.2 L277.3,232.3 L276.8,234.4 L276.1,236.6 Z M271.8,235.2 L272.4,233.3 L272.8,231.4 L273.0,229.6 L273.0,227.9 L272.9,226.4 L272.6,225.1 L272.1,224.1 L271.6,223.4 L271.2,223.1 L270.8,223.1 L270.7,223.3 L270.7,223.6 L270.7,223.9 L270.5,224.2 L270.1,224.6 L269.6,225.3 L268.9,226.1 L268.2,227.1 L267.4,228.3 L266.7,229.7 L265.9,231.2 L265.2,232.8 L264.5,234.4 L264.0,236.1 L263.5,237.7 L263.0,239.3 L262.7,240.8 L262.5,242.2 L262.4,243.4 L262.3,244.4 L262.3,245.1 L262.3,245.6 L262.1,245.9 L261.9,245.9 L261.5,246.0 L261.3,246.2 L261.4,246.5 L261.8,246.6 L262.6,246.6 L263.5,246.2 L264.6,245.6 L265.8,244.7 L267.0,243.5 L268.2,242.2 L269.3,240.6 L270.3,238.9 L271.1,237.1 Z"/>
<path fill-rule="evenodd" d="M295.5,274.7 L294.8,276.7 L294.0,278.5 L293.0,280.3 L291.9,281.9 L290.8,283.4 L289.5,284.8 L288.2,285.9 L286.7,286.9 L285.2,287.6 L283.6,288.0 L281.9,288.2 L280.2,287.9 L278.6,287.3 L277.1,286.3 L275.8,285.1 L274.8,283.6 L274.0,281.9 L273.4,280.1 L273.0,278.2 L272.9,276.2 L272.9,274.1 L273.1,272.0 L273.5,269.9 L274.1,267.8 L274.8,265.8 L275.8,263.8 L276.8,262.0 L278.0,260.3 L279.3,258.8 L280.8,257.4 L282.3,256.3 L283.9,255.4 L285.6,254.9 L287.4,254.6 L289.2,254.6 L290.8,255.1 L292.3,255.9 L293.6,257.0 L294.7,258.3 L295.5,259.8 L296.1,261.4 L296.6,263.1 L296.8,265.0 L296.8,266.9 L296.7,268.8 L296.5,270.8 L296.0,272.8 Z M292.1,271.8 L292.5,270.1 L292.6,268.5 L292.6,266.9 L292.5,265.4 L292.2,264.1 L291.8,262.9 L291.3,262.0 L290.8,261.2 L290.2,260.7 L289.6,260.5 L289.1,260.3 L288.6,260.3 L288.1,260.4 L287.4,260.7 L286.7,261.0 L286.0,261.6 L285.1,262.3 L284.3,263.3 L283.5,264.4 L282.7,265.6 L281.9,267.0 L281.3,268.4 L280.7,270.0 L280.3,271.5 L280.0,273.1 L279.7,274.6 L279.7,276.1 L279.7,277.4 L279.8,278.7 L280.0,279.8 L280.4,280.7 L280.7,281.4 L281.1,282.0 L281.5,282.4 L281.9,282.7 L282.4,282.9 L283.0,283.0 L283.7,282.9 L284.6,282.6 L285.6,282.2 L286.6,281.4 L287.6,280.5 L288.6,279.4 L289.5,278.1 L290.3,276.7 L291.1,275.1 L291.7,273.5 Z"/>
<path fill-rule="evenodd" d="M383.3,241.7 L384.1,243.8 L384.4,245.9 L384.2,248.1 L383.7,250.1 L382.8,252.0 L381.7,253.7 L380.4,255.2 L378.9,256.6 L377.3,257.9 L375.5,259.0 L373.7,259.9 L371.7,260.7 L369.8,261.3 L367.8,261.8 L365.8,262.0 L363.8,262.1 L361.9,262.0 L360.1,261.7 L358.4,261.3 L356.8,260.6 L355.4,259.7 L354.2,258.7 L353.2,257.4 L352.5,256.0 L352.1,254.6 L352.0,253.1 L352.2,251.6 L352.6,250.1 L353.2,248.7 L354.0,247.3 L355.0,245.9 L356.2,244.6 L357.4,243.3 L358.9,242.1 L360.4,240.9 L362.0,239.9 L363.7,238.9 L365.5,238.1 L367.3,237.4 L369.2,236.9 L371.1,236.5 L373.0,236.4 L374.9,236.4 L376.8,236.8 L378.7,237.4 L380.4,238.4 L382.0,239.9 Z M373.5,246.5 L373.7,246.4 L373.7,246.2 L373.5,245.9 L373.0,245.6 L372.2,245.2 L371.2,245.0 L370.1,244.8 L368.8,244.8 L367.5,244.9 L366.1,245.2 L364.7,245.5 L363.3,246.0 L361.9,246.7 L360.7,247.4 L359.6,248.2 L358.6,249.0 L357.8,249.9 L357.2,250.8 L356.8,251.6 L356.6,252.4 L356.6,253.0 L356.7,253.6 L357.0,253.9 L357.3,254.2 L357.7,254.5 L358.3,254.6 L358.9,254.7 L359.8,254.7 L360.7,254.7 L361.8,254.5 L362.9,254.2 L364.1,253.7 L365.3,253.2 L366.5,252.6 L367.6,251.9 L368.7,251.1 L369.7,250.3 L370.6,249.5 L371.3,248.6 L372.0,247.9 L372.4,247.2 L372.7,246.6 L372.9,246.2 L373.0,246.0 L373.0,246.0 L373.1,246.1 L373.3,246.3 Z"/>
<path fill-rule="evenodd" d="M419.3,241.7 L420.1,243.8 L420.4,245.9 L420.2,248.1 L419.7,250.1 L418.8,252.0 L417.7,253.7 L416.4,255.2 L414.9,256.6 L413.3,257.9 L411.5,259.0 L409.7,259.9 L407.7,260.7 L405.8,261.3 L403.8,261.8 L401.8,262.0 L399.8,262.1 L397.9,262.0 L396.1,261.7 L394.4,261.3 L392.8,260.6 L391.4,259.7 L390.2,258.7 L389.2,257.4 L388.5,256.0 L388.1,254.6 L388.0,253.1 L388.2,251.6 L388.6,250.1 L389.2,248.7 L390.0,247.3 L391.0,245.9 L392.2,244.6 L393.4,243.3 L394.9,242.1 L396.4,240.9 L398.0,239.9 L399.7,238.9 L401.5,238.1 L403.3,237.4 L405.2,236.9 L407.1,236.5 L409.0,236.4 L410.9,236.4 L412.8,236.8 L414.7,237.4 L416.4,238.4 L418.0,239.9 Z M409.5,246.5 L409.7,246.4 L409.7,246.2 L409.5,245.9 L409.0,245.6 L408.2,245.2 L407.2,245.0 L406.1,244.8 L404.8,244.8 L403.5,244.9 L402.1,245.2 L400.7,245.5 L399.3,246.0 L397.9,246.7 L396.7,247.4 L395.6,248.2 L394.6,249.0 L393.8,249.9 L393.2,250.8 L392.8,251.6 L392.6,252.4 L392.6,253.0 L392.7,253.6 L393.0,253.9 L393.3,254.2 L393.7,254.5 L394.3,254.6 L394.9,254.7 L395.8,254.7 L396.7,254.7 L397.8,254.5 L398.9,254.2 L400.1,253.7 L401.3,253.2 L402.5,252.6 L403.6,251.9 L404.7,251.1 L405.7,250.3 L406.6,249.5 L407.3,248.6 L408.0,247.9 L408.4,247.2 L408.7,246.6 L408.9,246.2 L409.0,246.0 L409.0,246.0 L409.1,246.1 L409.3,246.3 Z"/>
<path fill-rule="evenodd" d="M475.3,235.8 L474.5,237.9 L473.5,240.0 L472.5,242.0 L471.3,243.8 L470.1,245.6 L468.8,247.2 L467.5,248.6 L466.0,249.8 L464.3,250.9 L462.4,251.6 L460.3,251.9 L458.1,251.6 L456.0,250.6 L454.2,249.2 L452.8,247.4 L451.7,245.4 L451.0,243.3 L450.6,241.1 L450.5,238.8 L450.6,236.4 L450.9,234.0 L451.4,231.5 L452.1,229.1 L453.0,226.7 L454.1,224.4 L455.3,222.3 L456.7,220.2 L458.2,218.3 L459.9,216.6 L461.6,215.1 L463.4,213.9 L465.4,213.0 L467.4,212.3 L469.5,212.1 L471.7,212.3 L473.6,213.1 L475.3,214.3 L476.5,215.9 L477.3,217.6 L477.8,219.3 L478.0,221.2 L478.1,223.1 L478.0,225.1 L477.7,227.2 L477.3,229.3 L476.8,231.4 L476.1,233.6 Z M471.8,232.2 L472.4,230.3 L472.8,228.4 L473.0,226.6 L473.0,224.9 L472.9,223.4 L472.6,222.1 L472.1,221.1 L471.6,220.4 L471.2,220.1 L470.8,220.1 L470.7,220.3 L470.7,220.6 L470.7,220.9 L470.5,221.2 L470.1,221.6 L469.6,222.3 L468.9,223.1 L468.2,224.1 L467.4,225.3 L466.7,226.7 L465.9,228.2 L465.2,229.8 L464.5,231.4 L464.0,233.1 L463.5,234.7 L463.0,236.3 L462.7,237.8 L462.5,239.2 L462.4,240.4 L462.3,241.4 L462.3,242.1 L462.3,242.6 L462.1,242.9 L461.9,242.9 L461.5,243.0 L461.3,243.2 L461.4,243.5 L461.8,243.6 L462.6,243.6 L463.5,243.2 L464.6,242.6 L465.8,241.7 L467.0,240.5 L468.2,239.2 L469.3,237.6 L470.3,235.9 L471.1,234.1 Z"/>
<path fill-rule="evenodd" d="M560.6,237.7 L559.2,239.7 L557.7,241.5 L556.2,243.2 L554.5,244.8 L552.8,246.3 L551.0,247.5 L549.1,248.6 L547.1,249.4 L545.1,249.9 L542.9,250.1 L540.6,249.8 L538.4,249.0 L536.4,247.6 L534.7,245.8 L533.4,243.6 L532.6,241.3 L532.1,238.9 L532.0,236.3 L532.2,233.8 L532.7,231.2 L533.5,228.6 L534.5,226.1 L535.8,223.7 L537.3,221.4 L539.0,219.2 L540.9,217.2 L542.9,215.5 L545.0,213.9 L547.3,212.6 L549.6,211.6 L552.0,210.9 L554.5,210.5 L556.9,210.5 L559.2,211.0 L561.5,212.0 L563.4,213.4 L564.8,215.1 L565.8,217.0 L566.4,219.1 L566.6,221.1 L566.5,223.2 L566.2,225.3 L565.7,227.4 L565.0,229.5 L564.1,231.6 L563.1,233.7 L561.9,235.7 Z M558.1,233.4 L559.0,231.6 L559.7,229.8 L560.2,228.0 L560.5,226.3 L560.6,224.7 L560.4,223.3 L560.1,222.2 L559.6,221.4 L559.0,220.9 L558.5,220.7 L558.2,220.8 L557.9,221.0 L557.6,221.3 L557.2,221.5 L556.7,221.9 L556.0,222.4 L555.2,223.0 L554.2,223.8 L553.2,224.7 L552.2,225.8 L551.2,227.0 L550.1,228.3 L549.1,229.7 L548.2,231.1 L547.4,232.6 L546.7,234.0 L546.1,235.3 L545.6,236.6 L545.2,237.7 L545.0,238.6 L544.8,239.4 L544.6,239.9 L544.5,240.3 L544.3,240.6 L544.1,240.9 L544.1,241.2 L544.3,241.6 L544.9,242.0 L545.7,242.2 L546.9,242.1 L548.2,241.9 L549.7,241.3 L551.2,240.5 L552.8,239.5 L554.3,238.2 L555.7,236.8 L556.9,235.2 Z"/>
</g>
<g id="swoosh">
  <path d="M290,309.5 C298,304 318,300 336.5,297.8 L336.5,306.3 C318,307.5 300,310.5 290,309.5 Z" fill="#1679c0"/>
  <path d="M336.5,297.8 C352,295.5 366,293.5 382,292.1 L382,301.2 C366,302.5 350,304.5 336.5,306.3 Z" fill="#e01f26"/>
  <path d="M382,292.1 C398,290.5 414,289 429.5,288.5 L429.5,298.6 C414,299 398,300 382,301.2 Z" fill="#1aa7e4"/>
  <path d="M429.5,288.5 C445,288 460,288.5 467,290.5 C474,292.5 476.5,298 475,303 C474,307 471.5,309 467,309 L449,306.5 C455,305 461,304 464,302.5 C465.5,300.5 462,299.4 455,299.2 L429.5,298.6 Z" fill="#ee7b21"/>
</g>
<text class="big" x="258.5" y="378" font-size="79" textLength="239" lengthAdjust="spacingAndGlyphs">Career</text>
<text class="big" x="232.5" y="453" font-size="80" textLength="292" lengthAdjust="spacingAndGlyphs">Pathway</text>

</svg>
</body></html>
